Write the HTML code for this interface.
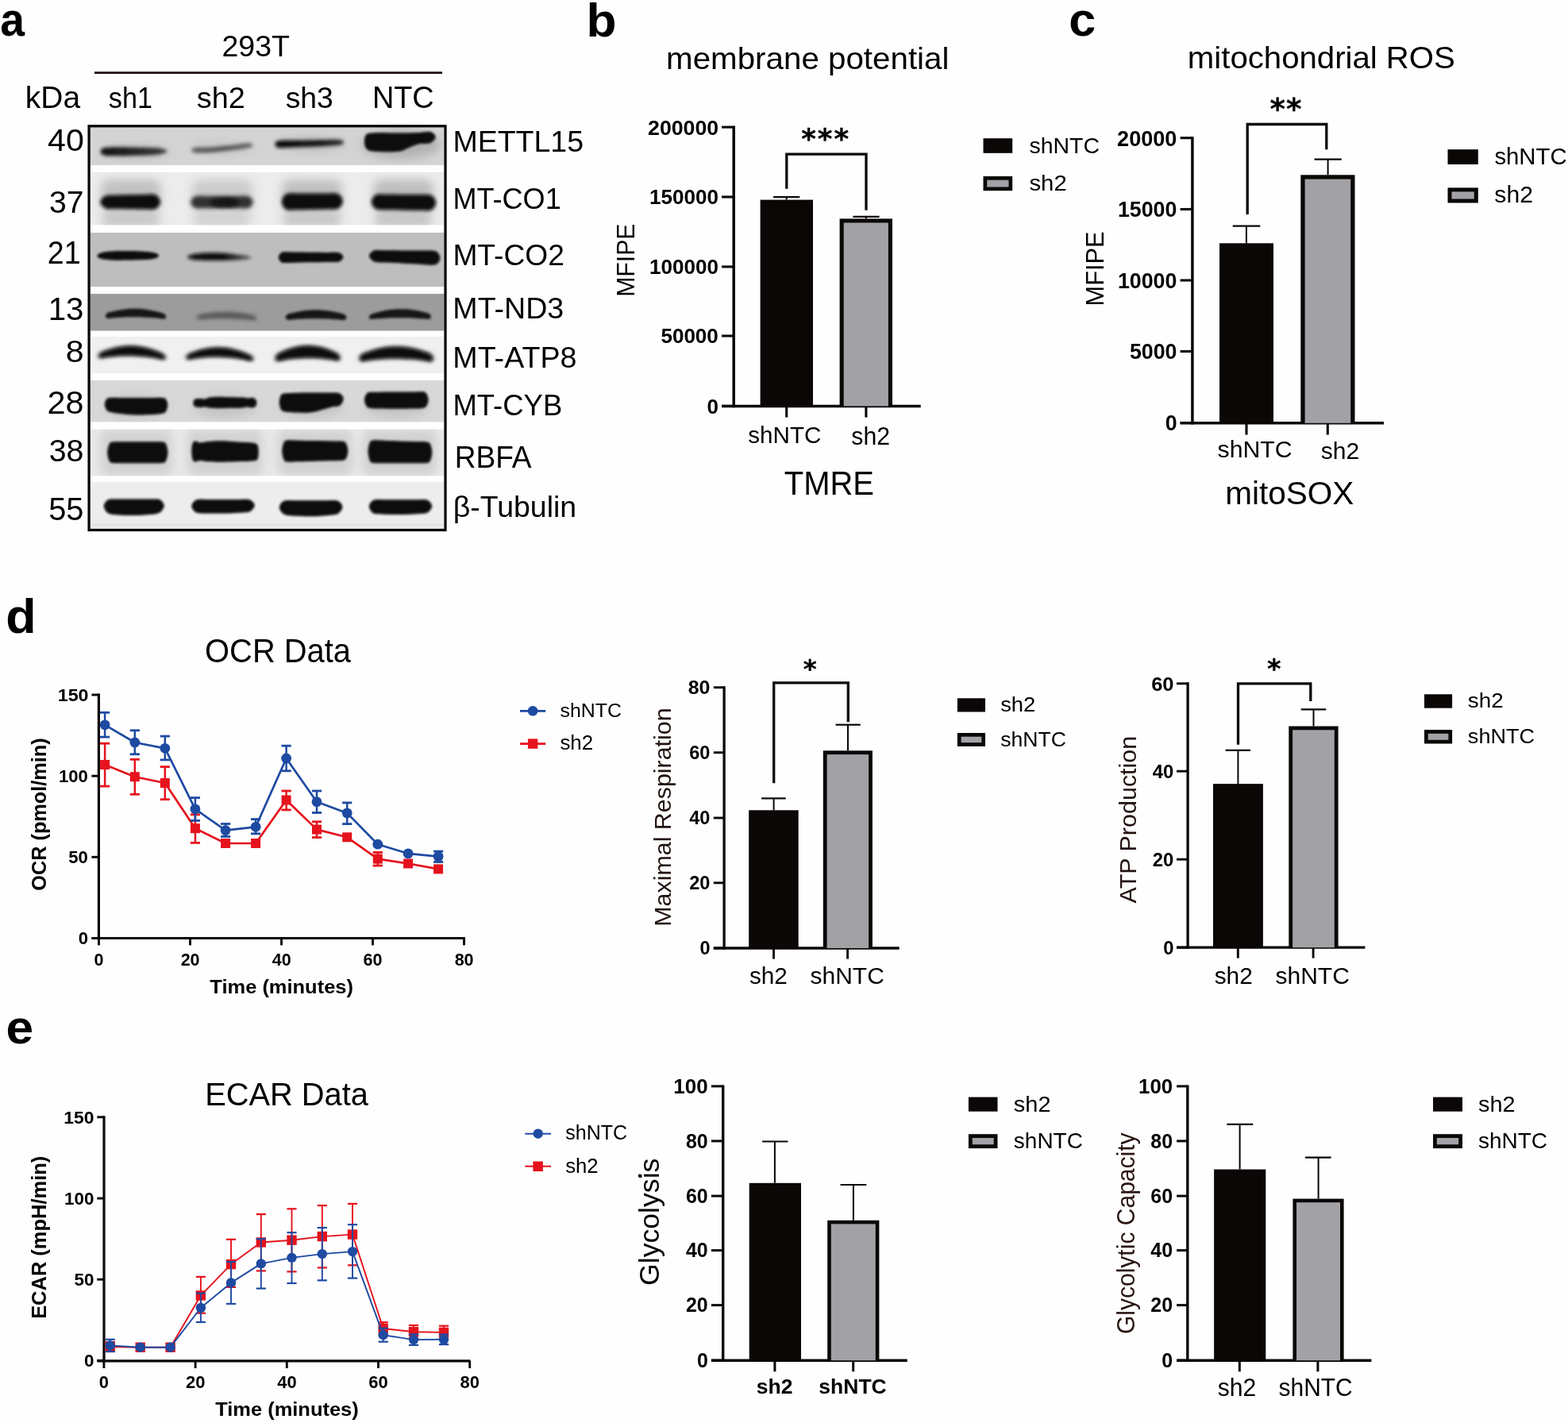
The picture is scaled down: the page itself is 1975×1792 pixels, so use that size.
<!DOCTYPE html>
<html><head><meta charset="utf-8"><title>Figure</title>
<style>html,body{margin:0;padding:0;background:#fefefe;} svg{display:block;}</style>
</head><body>
<svg width="1975" height="1792" viewBox="0 0 1975 1792">
<rect width="1975" height="1792" fill="#fefefe"/>
<defs><filter id="bl1" x="-20%" y="-60%" width="140%" height="220%"><feGaussianBlur stdDeviation="1.4"/></filter>
<filter id="bl2" x="-20%" y="-60%" width="140%" height="220%"><feGaussianBlur stdDeviation="2.0"/></filter>
<filter id="bl3" x="-30%" y="-80%" width="160%" height="260%"><feGaussianBlur stdDeviation="2.8"/></filter>
<filter id="bl6" x="-40%" y="-80%" width="180%" height="260%"><feGaussianBlur stdDeviation="6"/></filter>
<linearGradient id="g1" x1="0" x2="1" y1="0" y2="0"><stop offset="0" stop-color="#121212"/><stop offset="0.4" stop-color="#202020"/><stop offset="1" stop-color="#3e3e3e"/></linearGradient>
<linearGradient id="g2" x1="0" x2="1" y1="0" y2="0"><stop offset="0" stop-color="#606060"/><stop offset="0.5" stop-color="#585858"/><stop offset="1" stop-color="#6a6a6a"/></linearGradient>
<linearGradient id="g3" x1="0" x2="1" y1="0" y2="0"><stop offset="0" stop-color="#151515"/><stop offset="0.3" stop-color="#0a0a0a"/><stop offset="0.6" stop-color="#121212"/><stop offset="1" stop-color="#606060"/></linearGradient>
<linearGradient id="g4" x1="0" x2="1" y1="0" y2="0"><stop offset="0" stop-color="#0a0a0a"/><stop offset="0.7" stop-color="#181818"/><stop offset="1" stop-color="#353535"/></linearGradient>
<clipPath id="sc0"><rect x="113.5" y="160.3" width="446.1" height="47.7"/></clipPath>
<clipPath id="sc1"><rect x="113.5" y="216.7" width="446.1" height="66.9"/></clipPath>
<clipPath id="sc2"><rect x="113.5" y="292.9" width="446.1" height="68.1"/></clipPath>
<clipPath id="sc3"><rect x="113.5" y="370.0" width="446.1" height="46.7"/></clipPath>
<clipPath id="sc4"><rect x="113.5" y="424.0" width="446.1" height="46.6"/></clipPath>
<clipPath id="sc5"><rect x="113.5" y="478.8" width="446.1" height="52.7"/></clipPath>
<clipPath id="sc6"><rect x="113.5" y="540.6" width="446.1" height="58.8"/></clipPath>
<clipPath id="sc7"><rect x="113.5" y="607.0" width="446.1" height="59.5"/></clipPath></defs>
<g clip-path="url(#sc0)"><rect x="113.5" y="160.3" width="446.1" height="47.7" fill="#d4d4d4"/>
<ellipse cx="170" cy="191" rx="44" ry="9" fill="#bfbfbf" filter="url(#bl6)"/>
<ellipse cx="280" cy="186" rx="40" ry="8" fill="#c6c6c6" filter="url(#bl6)"/>
<ellipse cx="392" cy="181" rx="44" ry="9" fill="#bdbdbd" filter="url(#bl6)"/>
<ellipse cx="505" cy="182" rx="50" ry="18" fill="#b2b2b2" filter="url(#bl6)"/>
<path d="M126.80,190.60 C126.80,189.07 127.13,187.10 131.00,186.20 C134.87,185.30 142.67,185.28 150.00,185.20 C157.33,185.12 166.67,185.48 175.00,185.70 C183.33,185.92 194.10,185.73 200.00,186.50 C205.90,187.27 210.40,188.98 210.40,190.30 C210.40,191.62 205.90,193.48 200.00,194.40 C194.10,195.32 183.33,195.50 175.00,195.80 C166.67,196.10 157.33,196.27 150.00,196.20 C142.67,196.13 134.87,196.33 131.00,195.40 C127.13,194.47 126.80,192.13 126.80,190.60 Z" fill="url(#g1)" filter="url(#bl2)"/>
<path d="M241.30,189.00 C241.30,187.97 242.05,186.63 246.00,186.00 C249.95,185.37 257.67,185.70 265.00,185.20 C272.33,184.70 282.17,183.82 290.00,183.00 C297.83,182.18 307.22,180.30 312.00,180.30 C316.78,180.30 318.70,181.97 318.70,183.00 C318.70,184.03 316.78,185.42 312.00,186.50 C307.22,187.58 297.83,188.55 290.00,189.50 C282.17,190.45 272.33,191.75 265.00,192.20 C257.67,192.65 249.95,192.73 246.00,192.20 C242.05,191.67 241.30,190.03 241.30,189.00 Z" fill="url(#g2)" filter="url(#bl2)"/>
<path d="M346.80,181.50 C346.80,180.05 346.30,178.08 351.00,177.30 C355.70,176.52 366.00,176.98 375.00,176.80 C384.00,176.62 396.33,176.35 405.00,176.20 C413.67,176.05 422.33,175.37 427.00,175.90 C431.67,176.43 433.00,178.25 433.00,179.40 C433.00,180.55 431.67,182.00 427.00,182.80 C422.33,183.60 413.67,183.78 405.00,184.20 C396.33,184.62 384.00,185.00 375.00,185.30 C366.00,185.60 355.70,186.63 351.00,186.00 C346.30,185.37 346.80,182.95 346.80,181.50 Z" fill="url(#g4)" filter="url(#bl2)"/>
<path d="M459.00,178.00 C459.00,175.25 459.50,171.73 461.00,170.00 C462.50,168.27 463.17,168.03 468.00,167.60 C472.83,167.17 483.83,167.40 490.00,167.40 C496.17,167.40 500.67,167.60 505.00,167.60 C509.33,167.60 512.17,167.50 516.00,167.40 C519.83,167.30 523.67,167.23 528.00,167.00 C532.33,166.77 538.57,165.08 542.00,166.00 C545.43,166.92 548.60,170.17 548.60,172.50 C548.60,174.83 545.43,178.53 542.00,180.00 C538.57,181.47 532.33,180.38 528.00,181.30 C523.67,182.22 519.83,184.02 516.00,185.50 C512.17,186.98 509.33,189.25 505.00,190.20 C500.67,191.15 496.17,191.20 490.00,191.20 C483.83,191.20 472.83,190.98 468.00,190.20 C463.17,189.42 462.50,188.53 461.00,186.50 C459.50,184.47 459.00,180.75 459.00,178.00 Z" fill="#090707" filter="url(#bl1)"/>
</g>
<g clip-path="url(#sc1)"><rect x="113.5" y="216.7" width="446.1" height="66.9" fill="#ececec"/>
<rect x="127" y="226" width="76" height="38" rx="10" fill="#bababa" filter="url(#bl6)" opacity="0.85"/>
<rect x="129" y="264" width="72" height="22" rx="8" fill="#bababa" filter="url(#bl6)" opacity="0.7"/>
<rect x="242" y="226" width="76" height="38" rx="10" fill="#c6c6c6" filter="url(#bl6)" opacity="0.85"/>
<rect x="244" y="264" width="72" height="22" rx="8" fill="#c6c6c6" filter="url(#bl6)" opacity="0.7"/>
<rect x="355" y="226" width="76" height="38" rx="10" fill="#b8b8b8" filter="url(#bl6)" opacity="0.85"/>
<rect x="357" y="264" width="72" height="22" rx="8" fill="#b8b8b8" filter="url(#bl6)" opacity="0.7"/>
<rect x="470" y="226" width="76" height="38" rx="10" fill="#b6b6b6" filter="url(#bl6)" opacity="0.85"/>
<rect x="472" y="264" width="72" height="22" rx="8" fill="#b6b6b6" filter="url(#bl6)" opacity="0.7"/>
<path d="M126.30,254.45 C126.30,252.64 127.86,250.44 129.28,249.02 C130.69,247.60 132.14,246.48 134.80,245.93 C137.46,245.38 140.33,245.82 145.22,245.72 C150.12,245.63 157.84,245.47 164.15,245.35 C170.46,245.22 178.18,245.07 183.07,244.97 C187.97,244.88 190.84,244.33 193.50,244.77 C196.16,245.21 197.61,246.06 199.03,247.63 C200.44,249.21 202.00,252.01 202.00,254.20 C202.00,256.39 200.44,259.20 199.03,260.79 C197.61,262.37 196.16,263.23 193.50,263.69 C190.84,264.15 187.97,263.61 183.07,263.55 C178.18,263.49 170.46,263.38 164.15,263.30 C157.84,263.22 150.12,263.11 145.22,263.05 C140.33,262.99 137.46,263.44 134.80,262.91 C132.14,262.38 130.69,261.27 129.28,259.86 C127.86,258.45 126.30,256.26 126.30,254.45 Z" fill="#090707" filter="url(#bl2)"/>
<path d="M240.00,254.55 C240.00,252.84 241.38,250.72 242.62,249.43 C243.88,248.13 244.65,247.24 247.50,246.80 C250.35,246.36 254.38,246.80 259.70,246.80 C265.02,246.80 272.83,246.80 279.40,246.80 C285.97,246.80 293.78,246.80 299.10,246.80 C304.42,246.80 308.45,246.36 311.30,246.80 C314.15,247.24 314.93,248.13 316.18,249.43 C317.43,250.72 318.80,252.84 318.80,254.55 C318.80,256.26 317.43,258.38 316.18,259.68 C314.93,260.97 314.15,261.86 311.30,262.30 C308.45,262.74 304.42,262.30 299.10,262.30 C293.78,262.30 285.97,262.30 279.40,262.30 C272.83,262.30 265.02,262.30 259.70,262.30 C254.38,262.30 250.35,262.74 247.50,262.30 C244.65,261.86 243.88,260.97 242.62,259.68 C241.38,258.38 240.00,256.26 240.00,254.55 Z" fill="#303030" filter="url(#bl3)"/>
<ellipse cx="283" cy="255" rx="18" ry="5.5" fill="#121212" filter="url(#bl2)"/>
<path d="M354.80,254.10 C354.80,251.57 356.36,248.24 357.78,246.47 C359.19,244.71 360.59,244.00 363.30,243.50 C366.01,243.00 369.05,243.50 374.05,243.50 C379.05,243.50 386.88,243.50 393.30,243.50 C399.72,243.50 407.55,243.50 412.55,243.50 C417.55,243.50 420.59,243.00 423.30,243.50 C426.01,244.00 427.41,244.83 428.82,246.47 C430.24,248.12 431.80,251.05 431.80,253.35 C431.80,255.65 430.24,258.61 428.82,260.28 C427.41,261.95 426.01,262.82 423.30,263.37 C420.59,263.91 417.55,263.48 412.55,263.57 C407.55,263.67 399.72,263.82 393.30,263.95 C386.88,264.07 379.05,264.23 374.05,264.32 C369.05,264.42 366.01,264.98 363.30,264.53 C360.59,264.09 359.19,263.41 357.78,261.67 C356.36,259.93 354.80,256.63 354.80,254.10 Z" fill="#090707" filter="url(#bl2)"/>
<path d="M467.80,254.20 C467.80,251.95 469.36,249.11 470.78,247.50 C472.19,245.90 473.40,245.05 476.30,244.58 C479.20,244.12 482.78,244.65 488.15,244.70 C493.52,244.75 501.72,244.83 508.50,244.90 C515.28,244.97 523.48,245.05 528.85,245.10 C534.22,245.15 537.80,244.69 540.70,245.22 C543.60,245.74 544.81,246.56 546.23,248.25 C547.64,249.93 549.20,253.00 549.20,255.35 C549.20,257.70 547.64,260.72 546.23,262.37 C544.81,264.02 543.60,264.80 540.70,265.24 C537.80,265.69 534.22,265.12 528.85,265.02 C523.48,264.93 515.28,264.77 508.50,264.65 C501.72,264.52 493.52,264.37 488.15,264.27 C482.78,264.18 479.20,264.61 476.30,264.06 C473.40,263.51 472.19,262.62 470.78,260.98 C469.36,259.34 467.80,256.45 467.80,254.20 Z" fill="#090707" filter="url(#bl2)"/>
</g>
<g clip-path="url(#sc2)"><rect x="113.5" y="292.9" width="446.1" height="68.1" fill="#bebebe"/>
<path d="M122.50,322.20 C122.50,321.00 124.08,319.53 127.00,318.60 C129.92,317.67 134.50,317.02 140.00,316.60 C145.50,316.18 153.00,316.07 160.00,316.10 C167.00,316.13 176.17,316.38 182.00,316.80 C187.83,317.22 192.00,317.77 195.00,318.60 C198.00,319.43 200.00,320.63 200.00,321.80 C200.00,322.97 198.00,324.72 195.00,325.60 C192.00,326.48 187.83,326.77 182.00,327.10 C176.17,327.43 167.00,327.55 160.00,327.60 C153.00,327.65 145.50,327.70 140.00,327.40 C134.50,327.10 129.92,326.67 127.00,325.80 C124.08,324.93 122.50,323.40 122.50,322.20 Z" fill="#090707" filter="url(#bl1)"/>
<path d="M236.20,323.40 C236.20,322.30 238.37,321.03 242.00,320.20 C245.63,319.37 252.00,318.67 258.00,318.40 C264.00,318.13 271.33,318.27 278.00,318.60 C284.67,318.93 292.67,319.87 298.00,320.40 C303.33,320.93 306.87,321.13 310.00,321.80 C313.13,322.47 316.80,323.60 316.80,324.40 C316.80,325.20 313.13,326.10 310.00,326.60 C306.87,327.10 303.33,327.18 298.00,327.40 C292.67,327.62 284.67,327.82 278.00,327.90 C271.33,327.98 264.00,328.08 258.00,327.90 C252.00,327.72 245.63,327.55 242.00,326.80 C238.37,326.05 236.20,324.50 236.20,323.40 Z" fill="url(#g3)" filter="url(#bl2)"/>
<path d="M350.70,324.20 C350.70,322.67 351.89,320.74 352.97,319.60 C354.06,318.46 354.17,317.71 357.20,317.36 C360.23,317.01 365.42,317.44 371.15,317.50 C376.88,317.56 384.78,317.63 391.60,317.70 C398.42,317.77 406.32,317.84 412.05,317.90 C417.78,317.96 422.97,317.63 426.00,318.04 C429.03,318.45 429.14,319.38 430.23,320.35 C431.31,321.32 432.50,322.68 432.50,323.85 C432.50,325.02 431.31,326.39 430.23,327.37 C429.14,328.34 429.03,329.28 426.00,329.72 C422.97,330.15 417.78,329.87 412.05,329.98 C406.32,330.08 398.42,330.23 391.60,330.35 C384.78,330.48 376.88,330.62 371.15,330.73 C365.42,330.83 360.23,331.30 357.20,330.98 C354.17,330.66 354.06,329.91 352.97,328.78 C351.89,327.65 350.70,325.73 350.70,324.20 Z" fill="#090707" filter="url(#bl1)"/>
<path d="M464.90,322.25 C464.90,320.75 466.37,319.02 467.70,317.83 C469.03,316.63 469.64,315.51 472.90,315.07 C476.16,314.63 481.15,315.15 487.27,315.20 C493.40,315.25 502.19,315.33 509.65,315.40 C517.11,315.47 525.90,315.55 532.02,315.60 C538.15,315.65 543.14,315.23 546.40,315.73 C549.66,316.22 550.27,317.05 551.60,318.57 C552.93,320.10 554.40,322.82 554.40,324.90 C554.40,326.98 552.93,329.61 551.60,331.06 C550.27,332.51 549.66,333.30 546.40,333.60 C543.14,333.90 538.15,333.18 532.02,332.88 C525.90,332.57 517.11,332.12 509.65,331.75 C502.19,331.38 493.40,330.93 487.27,330.62 C481.15,330.32 476.16,330.53 472.90,329.90 C469.64,329.27 469.03,328.12 467.70,326.84 C466.37,325.57 464.90,323.75 464.90,322.25 Z" fill="#090707" filter="url(#bl1)"/>
</g>
<g clip-path="url(#sc3)"><rect x="113.5" y="370.0" width="446.1" height="46.7" fill="#9c9c9c"/>
<path d="M132.70,398.00 C132.70,396.81 134.02,394.82 135.70,393.80 C137.38,392.79 140.41,392.46 142.77,391.90 C145.13,391.33 147.48,390.85 149.84,390.44 C152.20,390.02 154.55,389.69 156.91,389.43 C159.27,389.17 161.62,388.98 163.98,388.87 C166.34,388.76 168.69,388.72 171.05,388.76 C173.41,388.80 175.76,388.91 178.12,389.10 C180.48,389.29 182.83,389.55 185.19,389.89 C187.55,390.23 189.90,390.64 192.26,391.13 C194.62,391.62 196.97,392.18 199.33,392.82 C201.69,393.46 204.72,393.93 206.40,394.96 C208.08,395.99 209.40,397.89 209.40,399.00 C209.40,400.11 208.08,401.31 206.40,401.62 C204.72,401.92 201.69,401.06 199.33,400.82 C196.97,400.59 194.62,400.38 192.26,400.19 C189.90,400.01 187.55,399.85 185.19,399.72 C182.83,399.59 180.48,399.49 178.12,399.41 C175.76,399.34 173.41,399.29 171.05,399.26 C168.69,399.24 166.34,399.25 163.98,399.28 C161.62,399.31 159.27,399.36 156.91,399.45 C154.55,399.53 152.20,399.64 149.84,399.78 C147.48,399.92 145.13,400.08 142.77,400.27 C140.41,400.46 137.38,401.30 135.70,400.92 C134.02,400.55 132.70,399.19 132.70,398.00 Z" fill="#141414" filter="url(#bl1)"/>
<path d="M247.50,400.00 C247.50,399.09 248.83,397.56 250.50,396.78 C252.17,396.01 255.17,395.77 257.50,395.35 C259.83,394.93 262.17,394.57 264.50,394.26 C266.83,393.95 269.17,393.70 271.50,393.50 C273.83,393.31 276.17,393.17 278.50,393.09 C280.83,393.01 283.17,392.98 285.50,393.01 C287.83,393.04 290.17,393.13 292.50,393.27 C294.83,393.42 297.17,393.62 299.50,393.87 C301.83,394.13 304.17,394.44 306.50,394.81 C308.83,395.18 311.17,395.61 313.50,396.09 C315.83,396.57 318.83,396.89 320.50,397.70 C322.17,398.52 323.50,400.09 323.50,401.00 C323.50,401.91 322.17,402.92 320.50,403.16 C318.83,403.41 315.83,402.67 313.50,402.47 C311.17,402.26 308.83,402.07 306.50,401.90 C304.17,401.74 301.83,401.60 299.50,401.48 C297.17,401.36 294.83,401.26 292.50,401.18 C290.17,401.11 287.83,401.06 285.50,401.02 C283.17,400.99 280.83,400.99 278.50,401.00 C276.17,401.01 273.83,401.05 271.50,401.11 C269.17,401.17 266.83,401.25 264.50,401.35 C262.17,401.45 259.83,401.58 257.50,401.73 C255.17,401.88 252.17,402.53 250.50,402.24 C248.83,401.95 247.50,400.91 247.50,400.00 Z" fill="#545454" filter="url(#bl3)"/>
<path d="M359.50,399.80 C359.50,398.60 360.82,396.62 362.50,395.60 C364.18,394.58 367.23,394.24 369.60,393.67 C371.97,393.09 374.33,392.59 376.70,392.17 C379.07,391.74 381.43,391.38 383.80,391.10 C386.17,390.82 388.53,390.61 390.90,390.47 C393.27,390.33 395.63,390.26 398.00,390.27 C400.37,390.28 402.73,390.35 405.10,390.50 C407.47,390.66 409.83,390.88 412.20,391.17 C414.57,391.47 416.93,391.84 419.30,392.28 C421.67,392.72 424.03,393.23 426.40,393.81 C428.77,394.40 431.82,394.76 433.50,395.79 C435.18,396.82 436.50,398.80 436.50,400.00 C436.50,401.20 435.18,402.57 433.50,402.96 C431.82,403.36 428.77,402.55 426.40,402.38 C424.03,402.20 421.67,402.05 419.30,401.92 C416.93,401.79 414.57,401.68 412.20,401.59 C409.83,401.50 407.47,401.43 405.10,401.38 C402.73,401.33 400.37,401.30 398.00,401.30 C395.63,401.29 393.27,401.31 390.90,401.34 C388.53,401.38 386.17,401.43 383.80,401.51 C381.43,401.59 379.07,401.69 376.70,401.81 C374.33,401.93 371.97,402.07 369.60,402.23 C367.23,402.39 364.18,403.19 362.50,402.78 C360.82,402.37 359.50,401.00 359.50,399.80 Z" fill="#151515" filter="url(#bl1)"/>
<path d="M464.50,399.50 C464.50,398.45 465.79,396.69 467.50,395.67 C469.21,394.66 472.33,394.09 474.75,393.41 C477.17,392.74 479.58,392.15 482.00,391.63 C484.42,391.12 486.83,390.69 489.25,390.34 C491.67,389.98 494.08,389.71 496.50,389.52 C498.92,389.33 501.33,389.22 503.75,389.19 C506.17,389.16 508.58,389.21 511.00,389.34 C513.42,389.47 515.83,389.68 518.25,389.97 C520.67,390.26 523.08,390.63 525.50,391.08 C527.92,391.53 530.33,392.06 532.75,392.67 C535.17,393.29 538.29,393.70 540.00,394.75 C541.71,395.80 543.00,397.80 543.00,399.00 C543.00,400.20 541.71,401.57 540.00,401.96 C538.29,402.35 535.17,401.54 532.75,401.36 C530.33,401.18 527.92,401.02 525.50,400.89 C523.08,400.75 520.67,400.64 518.25,400.55 C515.83,400.46 513.42,400.39 511.00,400.35 C508.58,400.30 506.17,400.28 503.75,400.28 C501.33,400.28 498.92,400.30 496.50,400.35 C494.08,400.39 491.67,400.46 489.25,400.55 C486.83,400.64 484.42,400.75 482.00,400.89 C479.58,401.02 477.17,401.18 474.75,401.36 C472.33,401.54 469.21,402.27 467.50,401.96 C465.79,401.65 464.50,400.55 464.50,399.50 Z" fill="#151515" filter="url(#bl1)"/>
</g>
<g clip-path="url(#sc4)"><rect x="113.5" y="424.0" width="446.1" height="46.6" fill="#f0f0f0"/>
<path d="M121.80,448.50 C121.80,447.18 122.92,444.98 124.80,443.61 C126.68,442.24 130.32,441.27 133.08,440.29 C135.84,439.32 138.60,438.47 141.36,437.76 C144.12,437.04 146.88,436.46 149.64,436.00 C152.40,435.54 155.16,435.22 157.92,435.02 C160.68,434.82 163.44,434.76 166.20,434.82 C168.96,434.88 171.72,435.07 174.48,435.39 C177.24,435.72 180.00,436.17 182.76,436.75 C185.52,437.33 188.28,438.04 191.04,438.88 C193.80,439.72 196.56,440.69 199.32,441.79 C202.08,442.89 205.72,444.02 207.60,445.47 C209.48,446.92 210.60,449.18 210.60,450.50 C210.60,451.82 209.48,453.15 207.60,453.39 C205.72,453.62 202.08,452.34 199.32,451.89 C196.56,451.44 193.80,451.04 191.04,450.69 C188.28,450.34 185.52,450.03 182.76,449.78 C180.00,449.52 177.24,449.31 174.48,449.16 C171.72,449.00 168.96,448.89 166.20,448.82 C163.44,448.76 160.68,448.75 157.92,448.78 C155.16,448.82 152.40,448.90 149.64,449.03 C146.88,449.16 144.12,449.34 141.36,449.57 C138.60,449.80 135.84,450.08 133.08,450.40 C130.32,450.73 126.68,451.84 124.80,451.52 C122.92,451.21 121.80,449.82 121.80,448.50 Z" fill="#555" filter="url(#bl3)" opacity="0.5"/>
<path d="M232.40,450.30 C232.40,448.99 233.53,446.78 235.40,445.42 C237.28,444.07 240.90,443.12 243.65,442.16 C246.40,441.20 249.15,440.37 251.90,439.66 C254.65,438.96 257.40,438.38 260.15,437.93 C262.90,437.48 265.65,437.16 268.40,436.97 C271.15,436.78 273.90,436.71 276.65,436.77 C279.40,436.83 282.15,437.02 284.90,437.34 C287.65,437.66 290.40,438.10 293.15,438.68 C295.90,439.25 298.65,439.95 301.40,440.78 C304.15,441.61 306.90,442.57 309.65,443.65 C312.40,444.74 316.02,445.85 317.90,447.29 C319.77,448.73 320.90,450.99 320.90,452.30 C320.90,453.61 319.77,454.93 317.90,455.14 C316.02,455.35 312.40,454.02 309.65,453.54 C306.90,453.06 304.15,452.63 301.40,452.25 C298.65,451.88 295.90,451.55 293.15,451.28 C290.40,451.01 287.65,450.79 284.90,450.62 C282.15,450.46 279.40,450.34 276.65,450.28 C273.90,450.22 271.15,450.21 268.40,450.25 C265.65,450.29 262.90,450.39 260.15,450.54 C257.40,450.68 254.65,450.88 251.90,451.14 C249.15,451.39 246.40,451.69 243.65,452.05 C240.90,452.41 237.28,453.57 235.40,453.28 C233.53,452.98 232.40,451.61 232.40,450.30 Z" fill="#555" filter="url(#bl3)" opacity="0.5"/>
<path d="M344.80,451.50 C344.80,449.82 345.98,447.00 347.80,445.32 C349.62,443.65 353.10,442.61 355.75,441.46 C358.40,440.32 361.05,439.32 363.70,438.45 C366.35,437.59 369.00,436.87 371.65,436.29 C374.30,435.71 376.95,435.27 379.60,434.97 C382.25,434.67 384.90,434.52 387.55,434.50 C390.20,434.49 392.85,434.61 395.50,434.88 C398.15,435.15 400.80,435.55 403.45,436.10 C406.10,436.65 408.75,437.34 411.40,438.17 C414.05,439.01 416.70,439.98 419.35,441.09 C422.00,442.21 425.48,443.21 427.30,444.86 C429.12,446.51 430.30,449.32 430.30,451.00 C430.30,452.68 429.12,454.50 427.30,454.94 C425.48,455.39 422.00,454.04 419.35,453.67 C416.70,453.29 414.05,452.96 411.40,452.68 C408.75,452.41 406.10,452.18 403.45,452.00 C400.80,451.82 398.15,451.69 395.50,451.60 C392.85,451.52 390.20,451.49 387.55,451.50 C384.90,451.52 382.25,451.58 379.60,451.70 C376.95,451.81 374.30,451.97 371.65,452.18 C369.00,452.39 366.35,452.65 363.70,452.96 C361.05,453.27 358.40,453.63 355.75,454.04 C353.10,454.45 349.62,455.83 347.80,455.41 C345.98,454.98 344.80,453.18 344.80,451.50 Z" fill="#555" filter="url(#bl3)" opacity="0.5"/>
<path d="M450.80,451.50 C450.80,449.84 451.79,447.21 453.80,445.63 C455.81,444.05 459.85,443.08 462.88,442.01 C465.91,440.93 468.93,439.99 471.96,439.18 C474.99,438.37 478.01,437.69 481.04,437.15 C484.07,436.60 487.09,436.19 490.12,435.91 C493.15,435.63 496.17,435.48 499.20,435.47 C502.23,435.45 505.25,435.57 508.28,435.82 C511.31,436.06 514.33,436.45 517.36,436.96 C520.39,437.47 523.41,438.12 526.44,438.90 C529.47,439.68 532.49,440.59 535.52,441.63 C538.55,442.68 542.59,443.52 544.60,445.16 C546.61,446.80 547.60,449.69 547.60,451.50 C547.60,453.31 546.61,455.48 544.60,456.03 C542.59,456.58 538.55,455.17 535.52,454.80 C532.49,454.43 529.47,454.11 526.44,453.83 C523.41,453.55 520.39,453.32 517.36,453.12 C514.33,452.93 511.31,452.79 508.28,452.68 C505.25,452.58 502.23,452.52 499.20,452.50 C496.17,452.49 493.15,452.52 490.12,452.59 C487.09,452.66 484.07,452.78 481.04,452.94 C478.01,453.10 474.99,453.30 471.96,453.55 C468.93,453.80 465.91,454.09 462.88,454.43 C459.85,454.76 455.81,456.05 453.80,455.57 C451.79,455.08 450.80,453.16 450.80,451.50 Z" fill="#555" filter="url(#bl3)" opacity="0.5"/>
<path d="M124.50,448.50 C124.50,447.43 125.71,445.54 127.50,444.31 C129.29,443.07 132.67,442.05 135.25,441.10 C137.83,440.16 140.42,439.34 143.00,438.65 C145.58,437.96 148.17,437.40 150.75,436.96 C153.33,436.52 155.92,436.20 158.50,436.01 C161.08,435.82 163.67,435.76 166.25,435.82 C168.83,435.88 171.42,436.07 174.00,436.38 C176.58,436.70 179.17,437.13 181.75,437.70 C184.33,438.26 186.92,438.95 189.50,439.77 C192.08,440.58 194.67,441.52 197.25,442.59 C199.83,443.65 203.21,444.85 205.00,446.16 C206.79,447.48 208.00,449.43 208.00,450.50 C208.00,451.57 206.79,452.48 205.00,452.57 C203.21,452.65 199.83,451.48 197.25,451.01 C194.67,450.54 192.08,450.12 189.50,449.75 C186.92,449.39 184.33,449.07 181.75,448.81 C179.17,448.54 176.58,448.33 174.00,448.16 C171.42,448.00 168.83,447.89 166.25,447.83 C163.67,447.76 161.08,447.75 158.50,447.79 C155.92,447.83 153.33,447.92 150.75,448.06 C148.17,448.21 145.58,448.40 143.00,448.64 C140.42,448.88 137.83,449.18 135.25,449.52 C132.67,449.87 129.29,450.88 127.50,450.71 C125.71,450.54 124.50,449.57 124.50,448.50 Z" fill="#090707" filter="url(#bl2)"/>
<path d="M235.00,450.30 C235.00,449.24 236.21,447.35 238.00,446.13 C239.79,444.91 243.16,443.90 245.74,442.97 C248.32,442.04 250.90,441.24 253.48,440.56 C256.06,439.88 258.64,439.32 261.22,438.89 C263.80,438.45 266.38,438.14 268.96,437.96 C271.54,437.77 274.12,437.71 276.70,437.77 C279.28,437.83 281.86,438.02 284.44,438.33 C287.02,438.64 289.60,439.07 292.18,439.63 C294.76,440.19 297.34,440.87 299.92,441.67 C302.50,442.48 305.08,443.40 307.66,444.46 C310.24,445.51 313.61,446.68 315.40,447.98 C317.19,449.29 318.40,451.24 318.40,452.30 C318.40,453.36 317.19,454.26 315.40,454.32 C313.61,454.38 310.24,453.15 307.66,452.65 C305.08,452.15 302.50,451.71 299.92,451.32 C297.34,450.93 294.76,450.59 292.18,450.31 C289.60,450.03 287.02,449.80 284.44,449.63 C281.86,449.46 279.28,449.34 276.70,449.28 C274.12,449.22 271.54,449.21 268.96,449.26 C266.38,449.31 263.80,449.41 261.22,449.57 C258.64,449.73 256.06,449.94 253.48,450.20 C250.90,450.47 248.32,450.79 245.74,451.17 C243.16,451.54 239.79,452.61 238.00,452.46 C236.21,452.32 235.00,451.36 235.00,450.30 Z" fill="#090707" filter="url(#bl2)"/>
<path d="M347.30,451.50 C347.30,450.07 348.56,447.54 350.30,446.00 C352.04,444.46 355.27,443.35 357.75,442.24 C360.23,441.12 362.72,440.15 365.20,439.31 C367.68,438.47 370.17,437.77 372.65,437.21 C375.13,436.65 377.62,436.22 380.10,435.94 C382.58,435.65 385.07,435.51 387.55,435.50 C390.03,435.49 392.52,435.62 395.00,435.89 C397.48,436.16 399.97,436.57 402.45,437.12 C404.93,437.66 407.42,438.35 409.90,439.17 C412.38,439.99 414.87,440.95 417.35,442.05 C419.83,443.15 423.06,444.28 424.80,445.77 C426.54,447.26 427.80,449.64 427.80,451.00 C427.80,452.36 426.54,453.63 424.80,453.90 C423.06,454.17 419.83,453.00 417.35,452.62 C414.87,452.25 412.38,451.92 409.90,451.64 C407.42,451.37 404.93,451.14 402.45,450.96 C399.97,450.79 397.48,450.66 395.00,450.58 C392.52,450.51 390.03,450.48 387.55,450.50 C385.07,450.53 382.58,450.60 380.10,450.72 C377.62,450.85 375.13,451.02 372.65,451.24 C370.17,451.46 367.68,451.74 365.20,452.06 C362.72,452.38 360.23,452.75 357.75,453.18 C355.27,453.60 352.04,454.87 350.30,454.59 C348.56,454.32 347.30,452.93 347.30,451.50 Z" fill="#090707" filter="url(#bl2)"/>
<path d="M453.30,451.50 C453.30,450.10 454.37,447.79 456.30,446.36 C458.23,444.93 462.02,443.93 464.88,442.91 C467.74,441.89 470.60,440.99 473.46,440.22 C476.32,439.45 479.18,438.81 482.04,438.29 C484.90,437.77 487.76,437.39 490.62,437.12 C493.48,436.86 496.34,436.73 499.20,436.72 C502.06,436.71 504.92,436.83 507.78,437.08 C510.64,437.32 513.50,437.70 516.36,438.20 C519.22,438.70 522.08,439.32 524.94,440.08 C527.80,440.83 530.66,441.71 533.52,442.72 C536.38,443.73 540.17,444.67 542.10,446.13 C544.03,447.59 545.10,450.03 545.10,451.50 C545.10,452.97 544.03,454.61 542.10,454.97 C540.17,455.33 536.38,454.04 533.52,453.65 C530.66,453.26 527.80,452.91 524.94,452.61 C522.08,452.32 519.22,452.07 516.36,451.87 C513.50,451.67 510.64,451.52 507.78,451.41 C504.92,451.31 502.06,451.25 499.20,451.25 C496.34,451.24 493.48,451.28 490.62,451.37 C487.76,451.46 484.90,451.59 482.04,451.78 C479.18,451.96 476.32,452.19 473.46,452.47 C470.60,452.76 467.74,453.08 464.88,453.46 C462.02,453.84 458.23,455.06 456.30,454.74 C454.37,454.41 453.30,452.90 453.30,451.50 Z" fill="#090707" filter="url(#bl2)"/>
</g>
<g clip-path="url(#sc5)"><rect x="113.5" y="478.8" width="446.1" height="52.7" fill="#d8d8d8"/>
<ellipse cx="171" cy="512" rx="40.0" ry="15" fill="#c6c6c6" filter="url(#bl6)"/>
<ellipse cx="283" cy="512" rx="40.0" ry="15" fill="#c6c6c6" filter="url(#bl6)"/>
<ellipse cx="392" cy="512" rx="40.5" ry="15" fill="#c6c6c6" filter="url(#bl6)"/>
<ellipse cx="499" cy="512" rx="40.5" ry="15" fill="#c6c6c6" filter="url(#bl6)"/>
<path d="M131.90,509.25 C131.90,507.12 133.00,504.48 134.00,503.10 C135.00,501.73 134.95,501.35 137.90,501.00 C140.85,500.65 146.12,501.00 151.73,501.00 C157.33,501.00 164.94,501.00 171.55,501.00 C178.16,501.00 185.77,501.00 191.38,501.00 C196.98,501.00 202.25,500.65 205.20,501.00 C208.15,501.35 208.10,501.56 209.10,503.10 C210.10,504.64 211.20,507.81 211.20,510.25 C211.20,512.69 210.10,516.06 209.10,517.76 C208.10,519.46 208.15,519.76 205.20,520.47 C202.25,521.17 196.98,521.66 191.38,522.00 C185.77,522.34 178.16,522.67 171.55,522.50 C164.94,522.33 157.33,521.62 151.73,521.00 C146.12,520.38 140.85,519.63 137.90,518.77 C134.95,517.91 135.00,517.45 134.00,515.87 C133.00,514.28 131.90,511.38 131.90,509.25 Z" fill="#090707" filter="url(#bl1)"/>
<path d="M243.40,507.40 C243.40,505.93 243.93,503.92 245.20,503.00 C246.47,502.08 248.87,501.97 251.00,501.90 C253.13,501.83 255.83,502.82 258.00,502.60 C260.17,502.38 261.17,501.07 264.00,500.60 C266.83,500.13 270.67,499.87 275.00,499.80 C279.33,499.73 285.00,500.07 290.00,500.20 C295.00,500.33 301.33,500.37 305.00,500.60 C308.67,500.83 310.00,501.57 312.00,501.60 C314.00,501.63 315.42,500.65 317.00,500.80 C318.58,500.95 320.43,501.47 321.50,502.50 C322.57,503.53 323.40,505.42 323.40,507.00 C323.40,508.58 322.57,510.93 321.50,512.00 C320.43,513.07 318.58,513.30 317.00,513.40 C315.42,513.50 314.00,512.60 312.00,512.60 C310.00,512.60 308.67,513.20 305.00,513.40 C301.33,513.60 295.00,513.67 290.00,513.80 C285.00,513.93 279.33,514.23 275.00,514.20 C270.67,514.17 266.83,513.93 264.00,513.60 C261.17,513.27 260.17,512.30 258.00,512.20 C255.83,512.10 253.13,513.07 251.00,513.00 C248.87,512.93 246.47,512.73 245.20,511.80 C243.93,510.87 243.40,508.87 243.40,507.40 Z" fill="#090707" filter="url(#bl1)"/>
<path d="M351.80,506.50 C351.80,503.83 352.47,500.32 353.50,498.50 C354.53,496.68 354.42,496.22 358.00,495.60 C361.58,494.98 369.33,494.97 375.00,494.80 C380.67,494.63 387.00,494.67 392.00,494.60 C397.00,494.53 400.67,494.40 405.00,494.40 C409.33,494.40 414.17,494.40 418.00,494.60 C421.83,494.80 425.57,494.37 428.00,495.60 C430.43,496.83 432.60,499.47 432.60,502.00 C432.60,504.53 430.43,509.07 428.00,510.80 C425.57,512.53 421.83,511.50 418.00,512.40 C414.17,513.30 409.33,515.07 405.00,516.20 C400.67,517.33 397.00,518.63 392.00,519.20 C387.00,519.77 380.67,519.77 375.00,519.60 C369.33,519.43 361.58,519.05 358.00,518.20 C354.42,517.35 354.53,516.45 353.50,514.50 C352.47,512.55 351.80,509.17 351.80,506.50 Z" fill="#090707" filter="url(#bl1)"/>
<path d="M459.00,503.70 C459.00,501.22 460.28,497.97 461.45,496.33 C462.62,494.69 463.05,494.28 466.00,493.85 C468.95,493.42 473.60,493.79 479.15,493.75 C484.70,493.71 492.58,493.65 499.30,493.60 C506.02,493.55 513.90,493.49 519.45,493.45 C525.00,493.41 529.65,492.97 532.60,493.35 C535.55,493.74 535.98,494.09 537.15,495.77 C538.32,497.44 539.60,500.83 539.60,503.40 C539.60,505.97 538.32,509.44 537.15,511.19 C535.98,512.94 535.55,513.35 532.60,513.88 C529.65,514.42 525.00,514.26 519.45,514.40 C513.90,514.54 506.02,514.70 499.30,514.70 C492.58,514.70 484.70,514.54 479.15,514.40 C473.60,514.26 468.95,514.42 466.00,513.88 C463.05,513.35 462.62,512.89 461.45,511.19 C460.28,509.49 459.00,506.18 459.00,503.70 Z" fill="#090707" filter="url(#bl1)"/>
</g>
<g clip-path="url(#sc6)"><rect x="113.5" y="540.6" width="446.1" height="58.8" fill="#e8e8e8"/>
<rect x="127" y="541" width="90" height="58" rx="10" fill="#d2d2d2" filter="url(#bl6)"/>
<rect x="236" y="541" width="95" height="58" rx="10" fill="#d2d2d2" filter="url(#bl6)"/>
<rect x="350" y="541" width="94" height="58" rx="10" fill="#d2d2d2" filter="url(#bl6)"/>
<rect x="457" y="541" width="93" height="58" rx="10" fill="#d2d2d2" filter="url(#bl6)"/>
<path d="M135.30,569.65 C135.30,566.07 136.58,561.12 137.75,558.91 C138.92,556.70 139.54,556.84 142.30,556.40 C145.06,555.96 149.15,556.31 154.33,556.27 C159.50,556.24 167.01,556.20 173.35,556.20 C179.69,556.20 187.20,556.24 192.38,556.27 C197.55,556.31 201.64,555.96 204.40,556.40 C207.16,556.84 207.78,556.70 208.95,558.91 C210.12,561.12 211.40,566.07 211.40,569.65 C211.40,573.23 210.12,578.19 208.95,580.41 C207.78,582.63 207.16,582.51 204.40,582.97 C201.64,583.43 197.55,583.12 192.38,583.17 C187.20,583.23 179.69,583.30 173.35,583.30 C167.01,583.30 159.50,583.23 154.33,583.17 C149.15,583.12 145.06,583.43 142.30,582.97 C139.54,582.51 138.92,582.63 137.75,580.41 C136.58,578.19 135.30,573.23 135.30,569.65 Z" fill="#090707" filter="url(#bl1)"/>
<path d="M241.30,568.00 C241.30,564.67 241.72,560.58 242.50,558.50 C243.28,556.42 244.42,555.67 246.00,555.50 C247.58,555.33 249.33,557.42 252.00,557.50 C254.67,557.58 257.33,556.38 262.00,556.00 C266.67,555.62 272.83,555.07 280.00,555.20 C287.17,555.33 298.33,556.33 305.00,556.80 C311.67,557.27 316.75,557.30 320.00,558.00 C323.25,558.70 323.57,559.17 324.50,561.00 C325.43,562.83 325.60,566.17 325.60,569.00 C325.60,571.83 325.43,576.13 324.50,578.00 C323.57,579.87 323.25,579.70 320.00,580.20 C316.75,580.70 311.67,580.75 305.00,581.00 C298.33,581.25 287.17,581.67 280.00,581.70 C272.83,581.73 266.67,581.48 262.00,581.20 C257.33,580.92 254.67,579.95 252.00,580.00 C249.33,580.05 247.58,581.75 246.00,581.50 C244.42,581.25 243.28,580.75 242.50,578.50 C241.72,576.25 241.30,571.33 241.30,568.00 Z" fill="#090707" filter="url(#bl1)"/>
<path d="M355.30,568.00 C355.30,564.27 356.58,559.06 357.75,556.79 C358.92,554.53 359.25,554.78 362.30,554.43 C365.35,554.07 370.30,554.57 376.05,554.67 C381.80,554.78 389.88,554.92 396.80,555.05 C403.72,555.17 411.80,555.32 417.55,555.42 C423.30,555.53 428.25,555.21 431.30,555.67 C434.35,556.14 434.68,556.19 435.85,558.21 C437.02,560.22 438.30,564.57 438.30,567.75 C438.30,570.93 437.02,575.29 435.85,577.31 C434.68,579.33 434.35,579.39 431.30,579.87 C428.25,580.35 423.30,580.06 417.55,580.20 C411.80,580.34 403.72,580.53 396.80,580.70 C389.88,580.87 381.80,581.06 376.05,581.20 C370.30,581.34 365.35,581.87 362.30,581.53 C359.25,581.20 358.92,581.45 357.75,579.19 C356.58,576.94 355.30,571.73 355.30,568.00 Z" fill="#090707" filter="url(#bl1)"/>
<path d="M463.60,568.50 C463.60,564.55 464.88,559.07 466.05,556.73 C467.22,554.38 467.65,554.73 470.60,554.42 C473.55,554.10 478.20,554.65 483.75,554.83 C489.30,555.00 497.18,555.24 503.90,555.45 C510.62,555.66 518.50,555.90 524.05,556.08 C529.60,556.25 534.25,555.98 537.20,556.48 C540.15,556.98 540.58,556.86 541.75,559.07 C542.92,561.29 544.20,566.19 544.20,569.75 C544.20,573.31 542.92,578.21 541.75,580.41 C540.58,582.61 540.15,582.50 537.20,582.96 C534.25,583.42 529.60,583.12 524.05,583.17 C518.50,583.23 510.62,583.30 503.90,583.30 C497.18,583.30 489.30,583.23 483.75,583.17 C478.20,583.12 473.55,583.42 470.60,582.96 C467.65,582.50 467.22,582.82 466.05,580.41 C464.88,578.00 463.60,572.45 463.60,568.50 Z" fill="#090707" filter="url(#bl1)"/>
</g>
<g clip-path="url(#sc7)"><rect x="113.5" y="607.0" width="446.1" height="59.5" fill="#ededed"/>
<path d="M130.70,637.30 C130.70,635.25 132.17,632.85 133.50,631.40 C134.83,629.95 136.00,629.07 138.70,628.60 C141.40,628.13 144.72,628.60 149.72,628.60 C154.73,628.60 162.41,628.60 168.75,628.60 C175.09,628.60 182.77,628.60 187.78,628.60 C192.78,628.60 196.10,628.13 198.80,628.60 C201.50,629.07 202.67,630.03 204.00,631.40 C205.33,632.77 206.80,634.91 206.80,636.80 C206.80,638.69 205.33,641.14 204.00,642.75 C202.67,644.36 201.50,645.59 198.80,646.46 C196.10,647.33 192.78,647.51 187.78,647.95 C182.77,648.39 175.09,649.02 168.75,649.10 C162.41,649.18 154.73,648.76 149.72,648.45 C144.72,648.14 141.40,648.05 138.70,647.25 C136.00,646.45 134.83,645.33 133.50,643.67 C132.17,642.02 130.70,639.35 130.70,637.30 Z" fill="#090707" filter="url(#bl1)"/>
<path d="M241.30,637.25 C241.30,635.40 242.77,633.17 244.10,631.80 C245.43,630.42 246.45,629.47 249.30,629.00 C252.15,628.53 255.88,629.00 261.18,629.00 C266.47,629.00 274.43,629.00 281.05,629.00 C287.68,629.00 295.63,629.00 300.93,629.00 C306.22,629.00 309.95,628.53 312.80,629.00 C315.65,629.47 316.67,630.55 318.00,631.80 C319.33,633.05 320.80,634.88 320.80,636.50 C320.80,638.12 319.33,640.11 318.00,641.50 C316.67,642.88 315.65,644.10 312.80,644.80 C309.95,645.51 306.22,645.43 300.93,645.73 C295.63,646.02 287.68,646.42 281.05,646.55 C274.43,646.67 266.47,646.57 261.18,646.48 C255.88,646.38 252.15,646.60 249.30,646.00 C246.45,645.40 245.43,644.35 244.10,642.89 C242.77,641.43 241.30,639.10 241.30,637.25 Z" fill="#090707" filter="url(#bl1)"/>
<path d="M351.90,638.90 C351.90,636.90 353.37,634.53 354.70,633.10 C356.03,631.67 357.05,630.77 359.90,630.30 C362.75,629.83 366.48,630.30 371.77,630.30 C377.07,630.30 385.02,630.30 391.65,630.30 C398.27,630.30 406.23,630.30 411.52,630.30 C416.82,630.30 420.55,629.83 423.40,630.30 C426.25,630.77 427.27,631.75 428.60,633.10 C429.93,634.45 431.40,636.55 431.40,638.40 C431.40,640.25 429.93,642.61 428.60,644.17 C427.27,645.73 426.25,646.93 423.40,647.76 C420.55,648.59 416.82,648.74 411.52,649.15 C406.23,649.56 398.27,650.12 391.65,650.20 C385.02,650.28 377.07,649.92 371.77,649.65 C366.48,649.38 362.75,649.32 359.90,648.56 C357.05,647.80 356.03,646.71 354.70,645.10 C353.37,643.49 351.90,640.90 351.90,638.90 Z" fill="#090707" filter="url(#bl1)"/>
<path d="M464.80,637.85 C464.80,635.86 466.27,633.44 467.60,632.00 C468.93,630.56 469.96,629.67 472.80,629.20 C475.64,628.73 479.37,629.20 484.65,629.20 C489.93,629.20 497.88,629.20 504.50,629.20 C511.12,629.20 519.07,629.20 524.35,629.20 C529.63,629.20 533.36,628.73 536.20,629.20 C539.04,629.67 540.07,630.64 541.40,632.00 C542.73,633.36 544.20,635.52 544.20,637.35 C544.20,639.18 542.73,641.51 541.40,643.01 C540.07,644.50 539.04,645.62 536.20,646.33 C533.36,647.03 529.63,646.97 524.35,647.25 C519.07,647.53 511.12,647.92 504.50,648.00 C497.88,648.08 489.93,647.90 484.65,647.75 C479.37,647.60 475.64,647.76 472.80,647.12 C469.96,646.49 468.93,645.48 467.60,643.94 C466.27,642.39 464.80,639.84 464.80,637.85 Z" fill="#090707" filter="url(#bl1)"/>
<rect x="115" y="660" width="443" height="2" fill="#d9d9d9" filter="url(#bl1)"/>
</g>
<rect x="112.1" y="158.8" width="448.9" height="508.7" fill="none" stroke="#0b0707" stroke-width="3.3"/>
<line x1="119" y1="91.6" x2="557" y2="91.6" stroke="#1e1111" stroke-width="2.7"/>
<line x1="924.20" y1="158.55" x2="924.20" y2="513.15" stroke="#0b0707" stroke-width="3.5" stroke-linecap="butt"/>
<line x1="909.00" y1="511.40" x2="1159.70" y2="511.40" stroke="#0b0707" stroke-width="3.5" stroke-linecap="butt"/>
<line x1="909.00" y1="160.10" x2="924.20" y2="160.10" stroke="#0b0707" stroke-width="3.1" stroke-linecap="butt"/>
<line x1="909.00" y1="248.00" x2="924.20" y2="248.00" stroke="#0b0707" stroke-width="3.1" stroke-linecap="butt"/>
<line x1="909.00" y1="335.90" x2="924.20" y2="335.90" stroke="#0b0707" stroke-width="3.1" stroke-linecap="butt"/>
<line x1="909.00" y1="423.00" x2="924.20" y2="423.00" stroke="#0b0707" stroke-width="3.1" stroke-linecap="butt"/>
<line x1="909.00" y1="511.40" x2="924.20" y2="511.40" stroke="#0b0707" stroke-width="3.1" stroke-linecap="butt"/>
<line x1="990.70" y1="511.40" x2="990.70" y2="525.60" stroke="#0b0707" stroke-width="3.1" stroke-linecap="butt"/>
<line x1="1090.90" y1="511.40" x2="1090.90" y2="525.60" stroke="#0b0707" stroke-width="3.1" stroke-linecap="butt"/>
<rect x="957.60" y="251.60" width="66.40" height="259.80" fill="#0b0707"/>
<rect x="1057.60" y="275.40" width="66.40" height="236.00" fill="#0b0707"/>
<rect x="1062.70" y="280.50" width="56.20" height="230.90" fill="#a2a1a6"/>
<line x1="990.70" y1="251.60" x2="990.70" y2="248.20" stroke="#0b0707" stroke-width="2.0" stroke-linecap="butt"/>
<line x1="974.00" y1="248.20" x2="1007.30" y2="248.20" stroke="#0b0707" stroke-width="2.2" stroke-linecap="butt"/>
<line x1="1090.90" y1="275.40" x2="1090.90" y2="272.80" stroke="#0b0707" stroke-width="2.0" stroke-linecap="butt"/>
<line x1="1074.40" y1="272.80" x2="1107.60" y2="272.80" stroke="#0b0707" stroke-width="2.2" stroke-linecap="butt"/>
<polyline points="990.80,237.70 990.80,194.10 1091.00,194.10 1091.00,264.70" fill="none" stroke="#0b0707" stroke-width="3.3" stroke-linejoin="miter"/>
<rect x="1238.50" y="174.20" width="36.70" height="18.60" fill="#0b0707"/>
<rect x="1238.50" y="222.00" width="36.70" height="18.20" fill="#0b0707"/>
<rect x="1243.20" y="226.70" width="27.30" height="8.80" fill="#a2a1a6"/>
<line x1="1501.90" y1="172.15" x2="1501.90" y2="534.55" stroke="#0b0707" stroke-width="3.5" stroke-linecap="butt"/>
<line x1="1486.60" y1="532.80" x2="1743.00" y2="532.80" stroke="#0b0707" stroke-width="3.5" stroke-linecap="butt"/>
<line x1="1486.60" y1="173.70" x2="1501.90" y2="173.70" stroke="#0b0707" stroke-width="3.1" stroke-linecap="butt"/>
<line x1="1486.60" y1="263.50" x2="1501.90" y2="263.50" stroke="#0b0707" stroke-width="3.1" stroke-linecap="butt"/>
<line x1="1486.60" y1="353.00" x2="1501.90" y2="353.00" stroke="#0b0707" stroke-width="3.1" stroke-linecap="butt"/>
<line x1="1486.60" y1="442.50" x2="1501.90" y2="442.50" stroke="#0b0707" stroke-width="3.1" stroke-linecap="butt"/>
<line x1="1486.60" y1="532.50" x2="1501.90" y2="532.50" stroke="#0b0707" stroke-width="3.1" stroke-linecap="butt"/>
<line x1="1570.00" y1="532.80" x2="1570.00" y2="547.50" stroke="#0b0707" stroke-width="3.1" stroke-linecap="butt"/>
<line x1="1672.30" y1="532.80" x2="1672.30" y2="547.50" stroke="#0b0707" stroke-width="3.1" stroke-linecap="butt"/>
<rect x="1536.00" y="306.30" width="68.00" height="226.50" fill="#0b0707"/>
<rect x="1638.30" y="220.30" width="68.20" height="312.50" fill="#0b0707"/>
<rect x="1643.60" y="225.60" width="57.60" height="307.20" fill="#a2a1a6"/>
<line x1="1569.90" y1="306.30" x2="1569.90" y2="284.60" stroke="#0b0707" stroke-width="2.0" stroke-linecap="butt"/>
<line x1="1552.70" y1="284.60" x2="1587.30" y2="284.60" stroke="#0b0707" stroke-width="2.2" stroke-linecap="butt"/>
<line x1="1672.60" y1="220.30" x2="1672.60" y2="200.70" stroke="#0b0707" stroke-width="2.0" stroke-linecap="butt"/>
<line x1="1655.50" y1="200.70" x2="1689.80" y2="200.70" stroke="#0b0707" stroke-width="2.2" stroke-linecap="butt"/>
<polyline points="1571.20,269.90 1571.20,156.50 1670.80,156.50 1670.80,188.30" fill="none" stroke="#0b0707" stroke-width="3.3" stroke-linejoin="miter"/>
<rect x="1823.50" y="188.20" width="38.30" height="18.80" fill="#0b0707"/>
<rect x="1823.50" y="236.40" width="38.30" height="19.10" fill="#0b0707"/>
<rect x="1828.50" y="241.40" width="28.30" height="9.10" fill="#a2a1a6"/>
<line x1="912.10" y1="864.25" x2="912.10" y2="1195.65" stroke="#0b0707" stroke-width="3.3" stroke-linecap="butt"/>
<line x1="898.80" y1="1194.00" x2="1132.70" y2="1194.00" stroke="#0b0707" stroke-width="3.3" stroke-linecap="butt"/>
<line x1="898.80" y1="865.70" x2="912.10" y2="865.70" stroke="#0b0707" stroke-width="2.9" stroke-linecap="butt"/>
<line x1="898.80" y1="947.70" x2="912.10" y2="947.70" stroke="#0b0707" stroke-width="2.9" stroke-linecap="butt"/>
<line x1="898.80" y1="1030.00" x2="912.10" y2="1030.00" stroke="#0b0707" stroke-width="2.9" stroke-linecap="butt"/>
<line x1="898.80" y1="1111.80" x2="912.10" y2="1111.80" stroke="#0b0707" stroke-width="2.9" stroke-linecap="butt"/>
<line x1="898.80" y1="1194.00" x2="912.10" y2="1194.00" stroke="#0b0707" stroke-width="2.9" stroke-linecap="butt"/>
<line x1="974.50" y1="1194.00" x2="974.50" y2="1207.60" stroke="#0b0707" stroke-width="2.9" stroke-linecap="butt"/>
<line x1="1067.60" y1="1194.00" x2="1067.60" y2="1207.60" stroke="#0b0707" stroke-width="2.9" stroke-linecap="butt"/>
<rect x="943.20" y="1020.30" width="62.50" height="173.70" fill="#0b0707"/>
<rect x="1036.80" y="945.30" width="62.10" height="248.70" fill="#0b0707"/>
<rect x="1041.60" y="950.10" width="52.50" height="243.90" fill="#a2a1a6"/>
<line x1="974.60" y1="1020.30" x2="974.60" y2="1005.40" stroke="#0b0707" stroke-width="2.0" stroke-linecap="butt"/>
<line x1="959.10" y1="1005.40" x2="989.80" y2="1005.40" stroke="#0b0707" stroke-width="2.2" stroke-linecap="butt"/>
<line x1="1068.00" y1="945.30" x2="1068.00" y2="912.70" stroke="#0b0707" stroke-width="2.0" stroke-linecap="butt"/>
<line x1="1052.50" y1="912.70" x2="1083.80" y2="912.70" stroke="#0b0707" stroke-width="2.2" stroke-linecap="butt"/>
<polyline points="974.70,986.30 974.70,859.90 1068.30,859.90 1068.30,909.20" fill="none" stroke="#0b0707" stroke-width="3.3" stroke-linejoin="miter"/>
<rect x="1205.90" y="879.30" width="35.10" height="17.20" fill="#0b0707"/>
<rect x="1205.90" y="923.00" width="35.10" height="16.90" fill="#0b0707"/>
<rect x="1210.60" y="927.70" width="25.70" height="7.50" fill="#a2a1a6"/>
<line x1="1496.10" y1="859.35" x2="1496.10" y2="1194.85" stroke="#0b0707" stroke-width="3.3" stroke-linecap="butt"/>
<line x1="1482.00" y1="1193.20" x2="1719.40" y2="1193.20" stroke="#0b0707" stroke-width="3.3" stroke-linecap="butt"/>
<line x1="1482.00" y1="860.80" x2="1496.10" y2="860.80" stroke="#0b0707" stroke-width="2.9" stroke-linecap="butt"/>
<line x1="1482.00" y1="971.20" x2="1496.10" y2="971.20" stroke="#0b0707" stroke-width="2.9" stroke-linecap="butt"/>
<line x1="1482.00" y1="1082.20" x2="1496.10" y2="1082.20" stroke="#0b0707" stroke-width="2.9" stroke-linecap="butt"/>
<line x1="1482.00" y1="1193.20" x2="1496.10" y2="1193.20" stroke="#0b0707" stroke-width="2.9" stroke-linecap="butt"/>
<line x1="1559.30" y1="1193.20" x2="1559.30" y2="1206.60" stroke="#0b0707" stroke-width="2.9" stroke-linecap="butt"/>
<line x1="1654.10" y1="1193.20" x2="1654.10" y2="1206.60" stroke="#0b0707" stroke-width="2.9" stroke-linecap="butt"/>
<rect x="1528.00" y="987.10" width="62.90" height="206.10" fill="#0b0707"/>
<rect x="1623.30" y="914.50" width="62.30" height="278.70" fill="#0b0707"/>
<rect x="1628.10" y="919.30" width="52.70" height="273.90" fill="#a2a1a6"/>
<line x1="1559.40" y1="987.10" x2="1559.40" y2="944.80" stroke="#0b0707" stroke-width="2.0" stroke-linecap="butt"/>
<line x1="1543.60" y1="944.80" x2="1575.00" y2="944.80" stroke="#0b0707" stroke-width="2.2" stroke-linecap="butt"/>
<line x1="1654.50" y1="914.50" x2="1654.50" y2="893.30" stroke="#0b0707" stroke-width="2.0" stroke-linecap="butt"/>
<line x1="1638.70" y1="893.30" x2="1670.30" y2="893.30" stroke="#0b0707" stroke-width="2.2" stroke-linecap="butt"/>
<polyline points="1559.50,937.70 1559.50,860.80 1650.80,860.80 1650.80,882.90" fill="none" stroke="#0b0707" stroke-width="3.3" stroke-linejoin="miter"/>
<rect x="1794.00" y="874.30" width="35.10" height="17.40" fill="#0b0707"/>
<rect x="1794.00" y="919.10" width="35.10" height="17.40" fill="#0b0707"/>
<rect x="1798.70" y="923.80" width="25.70" height="8.00" fill="#a2a1a6"/>
<line x1="910.70" y1="1366.40" x2="910.70" y2="1714.90" stroke="#0b0707" stroke-width="3.4" stroke-linecap="butt"/>
<line x1="895.90" y1="1713.20" x2="1142.70" y2="1713.20" stroke="#0b0707" stroke-width="3.4" stroke-linecap="butt"/>
<line x1="895.90" y1="1367.90" x2="910.70" y2="1367.90" stroke="#0b0707" stroke-width="3.0" stroke-linecap="butt"/>
<line x1="895.90" y1="1436.90" x2="910.70" y2="1436.90" stroke="#0b0707" stroke-width="3.0" stroke-linecap="butt"/>
<line x1="895.90" y1="1506.10" x2="910.70" y2="1506.10" stroke="#0b0707" stroke-width="3.0" stroke-linecap="butt"/>
<line x1="895.90" y1="1574.60" x2="910.70" y2="1574.60" stroke="#0b0707" stroke-width="3.0" stroke-linecap="butt"/>
<line x1="895.90" y1="1643.60" x2="910.70" y2="1643.60" stroke="#0b0707" stroke-width="3.0" stroke-linecap="butt"/>
<line x1="895.90" y1="1713.20" x2="910.70" y2="1713.20" stroke="#0b0707" stroke-width="3.0" stroke-linecap="butt"/>
<line x1="975.90" y1="1713.20" x2="975.90" y2="1727.30" stroke="#0b0707" stroke-width="3.0" stroke-linecap="butt"/>
<line x1="1074.70" y1="1713.20" x2="1074.70" y2="1727.30" stroke="#0b0707" stroke-width="3.0" stroke-linecap="butt"/>
<rect x="943.70" y="1489.80" width="65.30" height="223.40" fill="#0b0707"/>
<rect x="1042.20" y="1536.80" width="65.20" height="176.40" fill="#0b0707"/>
<rect x="1046.80" y="1541.40" width="56.00" height="171.80" fill="#a2a1a6"/>
<line x1="975.90" y1="1489.80" x2="975.90" y2="1437.50" stroke="#0b0707" stroke-width="2.0" stroke-linecap="butt"/>
<line x1="960.10" y1="1437.50" x2="992.40" y2="1437.50" stroke="#0b0707" stroke-width="2.2" stroke-linecap="butt"/>
<line x1="1074.90" y1="1536.80" x2="1074.90" y2="1492.00" stroke="#0b0707" stroke-width="2.0" stroke-linecap="butt"/>
<line x1="1058.50" y1="1492.00" x2="1091.30" y2="1492.00" stroke="#0b0707" stroke-width="2.2" stroke-linecap="butt"/>
<rect x="1219.90" y="1381.60" width="36.60" height="18.10" fill="#0b0707"/>
<rect x="1219.90" y="1428.20" width="36.60" height="17.90" fill="#0b0707"/>
<rect x="1224.70" y="1433.00" width="27.00" height="8.30" fill="#a2a1a6"/>
<line x1="1495.80" y1="1366.40" x2="1495.80" y2="1714.90" stroke="#0b0707" stroke-width="3.4" stroke-linecap="butt"/>
<line x1="1482.10" y1="1713.20" x2="1727.40" y2="1713.20" stroke="#0b0707" stroke-width="3.4" stroke-linecap="butt"/>
<line x1="1482.10" y1="1367.90" x2="1495.80" y2="1367.90" stroke="#0b0707" stroke-width="3.0" stroke-linecap="butt"/>
<line x1="1482.10" y1="1436.90" x2="1495.80" y2="1436.90" stroke="#0b0707" stroke-width="3.0" stroke-linecap="butt"/>
<line x1="1482.10" y1="1506.10" x2="1495.80" y2="1506.10" stroke="#0b0707" stroke-width="3.0" stroke-linecap="butt"/>
<line x1="1482.10" y1="1574.60" x2="1495.80" y2="1574.60" stroke="#0b0707" stroke-width="3.0" stroke-linecap="butt"/>
<line x1="1482.10" y1="1643.60" x2="1495.80" y2="1643.60" stroke="#0b0707" stroke-width="3.0" stroke-linecap="butt"/>
<line x1="1482.10" y1="1713.20" x2="1495.80" y2="1713.20" stroke="#0b0707" stroke-width="3.0" stroke-linecap="butt"/>
<line x1="1561.30" y1="1713.20" x2="1561.30" y2="1727.30" stroke="#0b0707" stroke-width="3.0" stroke-linecap="butt"/>
<line x1="1659.90" y1="1713.20" x2="1659.90" y2="1727.30" stroke="#0b0707" stroke-width="3.0" stroke-linecap="butt"/>
<rect x="1529.10" y="1472.60" width="65.20" height="240.60" fill="#0b0707"/>
<rect x="1628.40" y="1509.60" width="64.20" height="203.60" fill="#0b0707"/>
<rect x="1633.00" y="1514.20" width="55.00" height="199.00" fill="#a2a1a6"/>
<line x1="1561.60" y1="1472.60" x2="1561.60" y2="1415.90" stroke="#0b0707" stroke-width="2.0" stroke-linecap="butt"/>
<line x1="1545.30" y1="1415.90" x2="1578.20" y2="1415.90" stroke="#0b0707" stroke-width="2.2" stroke-linecap="butt"/>
<line x1="1660.60" y1="1509.60" x2="1660.60" y2="1457.70" stroke="#0b0707" stroke-width="2.0" stroke-linecap="butt"/>
<line x1="1643.90" y1="1457.70" x2="1676.60" y2="1457.70" stroke="#0b0707" stroke-width="2.2" stroke-linecap="butt"/>
<rect x="1805.00" y="1381.60" width="37.00" height="18.10" fill="#0b0707"/>
<rect x="1805.00" y="1428.20" width="37.00" height="17.90" fill="#0b0707"/>
<rect x="1809.80" y="1433.00" width="27.40" height="8.30" fill="#a2a1a6"/>
<line x1="124.40" y1="873.55" x2="124.40" y2="1183.10" stroke="#0b0707" stroke-width="3.2" stroke-linecap="butt"/>
<line x1="115.40" y1="1181.50" x2="586.00" y2="1181.50" stroke="#0b0707" stroke-width="3.2" stroke-linecap="butt"/>
<line x1="115.40" y1="875.00" x2="124.40" y2="875.00" stroke="#0b0707" stroke-width="2.9000000000000004" stroke-linecap="butt"/>
<line x1="115.40" y1="977.20" x2="124.40" y2="977.20" stroke="#0b0707" stroke-width="2.9000000000000004" stroke-linecap="butt"/>
<line x1="115.40" y1="1079.30" x2="124.40" y2="1079.30" stroke="#0b0707" stroke-width="2.9000000000000004" stroke-linecap="butt"/>
<line x1="115.40" y1="1181.50" x2="124.40" y2="1181.50" stroke="#0b0707" stroke-width="2.9000000000000004" stroke-linecap="butt"/>
<line x1="124.50" y1="1181.50" x2="124.50" y2="1190.40" stroke="#0b0707" stroke-width="2.9000000000000004" stroke-linecap="butt"/>
<line x1="239.50" y1="1181.50" x2="239.50" y2="1190.40" stroke="#0b0707" stroke-width="2.9000000000000004" stroke-linecap="butt"/>
<line x1="354.50" y1="1181.50" x2="354.50" y2="1190.40" stroke="#0b0707" stroke-width="2.9000000000000004" stroke-linecap="butt"/>
<line x1="469.50" y1="1181.50" x2="469.50" y2="1190.40" stroke="#0b0707" stroke-width="2.9000000000000004" stroke-linecap="butt"/>
<line x1="584.50" y1="1181.50" x2="584.50" y2="1190.40" stroke="#0b0707" stroke-width="2.9000000000000004" stroke-linecap="butt"/>
<polyline points="132.10,963.00 169.80,978.20 207.80,986.00 245.90,1043.20 284.10,1062.00 322.10,1062.00 360.60,1007.50 399.00,1044.60 437.20,1054.30 475.80,1081.60 514.10,1087.50 552.10,1094.40" fill="none" stroke="#e5131d" stroke-width="2.7" stroke-linejoin="round"/>
<line x1="132.10" y1="936.20" x2="132.10" y2="990.10" stroke="#e5131d" stroke-width="2.5" stroke-linecap="butt"/>
<line x1="126.00" y1="936.20" x2="138.20" y2="936.20" stroke="#e5131d" stroke-width="2.8" stroke-linecap="butt"/>
<line x1="126.00" y1="990.10" x2="138.20" y2="990.10" stroke="#e5131d" stroke-width="2.8" stroke-linecap="butt"/>
<line x1="169.80" y1="956.30" x2="169.80" y2="1000.30" stroke="#e5131d" stroke-width="2.5" stroke-linecap="butt"/>
<line x1="163.70" y1="956.30" x2="175.90" y2="956.30" stroke="#e5131d" stroke-width="2.8" stroke-linecap="butt"/>
<line x1="163.70" y1="1000.30" x2="175.90" y2="1000.30" stroke="#e5131d" stroke-width="2.8" stroke-linecap="butt"/>
<line x1="207.80" y1="965.60" x2="207.80" y2="1006.70" stroke="#e5131d" stroke-width="2.5" stroke-linecap="butt"/>
<line x1="201.70" y1="965.60" x2="213.90" y2="965.60" stroke="#e5131d" stroke-width="2.8" stroke-linecap="butt"/>
<line x1="201.70" y1="1006.70" x2="213.90" y2="1006.70" stroke="#e5131d" stroke-width="2.8" stroke-linecap="butt"/>
<line x1="245.90" y1="1025.80" x2="245.90" y2="1061.40" stroke="#e5131d" stroke-width="2.5" stroke-linecap="butt"/>
<line x1="239.80" y1="1025.80" x2="252.00" y2="1025.80" stroke="#e5131d" stroke-width="2.8" stroke-linecap="butt"/>
<line x1="239.80" y1="1061.40" x2="252.00" y2="1061.40" stroke="#e5131d" stroke-width="2.8" stroke-linecap="butt"/>
<line x1="360.60" y1="996.00" x2="360.60" y2="1019.90" stroke="#e5131d" stroke-width="2.5" stroke-linecap="butt"/>
<line x1="354.50" y1="996.00" x2="366.70" y2="996.00" stroke="#e5131d" stroke-width="2.8" stroke-linecap="butt"/>
<line x1="354.50" y1="1019.90" x2="366.70" y2="1019.90" stroke="#e5131d" stroke-width="2.8" stroke-linecap="butt"/>
<line x1="399.00" y1="1034.80" x2="399.00" y2="1054.60" stroke="#e5131d" stroke-width="2.5" stroke-linecap="butt"/>
<line x1="392.90" y1="1034.80" x2="405.10" y2="1034.80" stroke="#e5131d" stroke-width="2.8" stroke-linecap="butt"/>
<line x1="392.90" y1="1054.60" x2="405.10" y2="1054.60" stroke="#e5131d" stroke-width="2.8" stroke-linecap="butt"/>
<line x1="475.80" y1="1073.40" x2="475.80" y2="1090.10" stroke="#e5131d" stroke-width="2.5" stroke-linecap="butt"/>
<line x1="469.70" y1="1073.40" x2="481.90" y2="1073.40" stroke="#e5131d" stroke-width="2.8" stroke-linecap="butt"/>
<line x1="469.70" y1="1090.10" x2="481.90" y2="1090.10" stroke="#e5131d" stroke-width="2.8" stroke-linecap="butt"/>
<rect x="126.10" y="957.00" width="12.00" height="12.00" fill="#e5131d"/>
<rect x="163.80" y="972.20" width="12.00" height="12.00" fill="#e5131d"/>
<rect x="201.80" y="980.00" width="12.00" height="12.00" fill="#e5131d"/>
<rect x="239.90" y="1037.20" width="12.00" height="12.00" fill="#e5131d"/>
<rect x="278.10" y="1056.00" width="12.00" height="12.00" fill="#e5131d"/>
<rect x="316.10" y="1056.00" width="12.00" height="12.00" fill="#e5131d"/>
<rect x="354.60" y="1001.50" width="12.00" height="12.00" fill="#e5131d"/>
<rect x="393.00" y="1038.60" width="12.00" height="12.00" fill="#e5131d"/>
<rect x="431.20" y="1048.30" width="12.00" height="12.00" fill="#e5131d"/>
<rect x="469.80" y="1075.60" width="12.00" height="12.00" fill="#e5131d"/>
<rect x="508.10" y="1081.50" width="12.00" height="12.00" fill="#e5131d"/>
<rect x="546.10" y="1088.40" width="12.00" height="12.00" fill="#e5131d"/>
<polyline points="132.10,912.80 169.80,935.00 207.80,942.30 245.90,1018.90 284.10,1045.60 322.10,1041.30 360.60,955.00 399.00,1009.70 437.20,1023.90 475.80,1063.20 514.10,1074.90 552.10,1078.60" fill="none" stroke="#1e4aa1" stroke-width="2.7" stroke-linejoin="round"/>
<line x1="132.10" y1="897.30" x2="132.10" y2="928.10" stroke="#1e4aa1" stroke-width="2.5" stroke-linecap="butt"/>
<line x1="126.00" y1="897.30" x2="138.20" y2="897.30" stroke="#1e4aa1" stroke-width="2.8" stroke-linecap="butt"/>
<line x1="126.00" y1="928.10" x2="138.20" y2="928.10" stroke="#1e4aa1" stroke-width="2.8" stroke-linecap="butt"/>
<line x1="169.80" y1="919.80" x2="169.80" y2="949.80" stroke="#1e4aa1" stroke-width="2.5" stroke-linecap="butt"/>
<line x1="163.70" y1="919.80" x2="175.90" y2="919.80" stroke="#1e4aa1" stroke-width="2.8" stroke-linecap="butt"/>
<line x1="163.70" y1="949.80" x2="175.90" y2="949.80" stroke="#1e4aa1" stroke-width="2.8" stroke-linecap="butt"/>
<line x1="207.80" y1="927.10" x2="207.80" y2="956.90" stroke="#1e4aa1" stroke-width="2.5" stroke-linecap="butt"/>
<line x1="201.70" y1="927.10" x2="213.90" y2="927.10" stroke="#1e4aa1" stroke-width="2.8" stroke-linecap="butt"/>
<line x1="201.70" y1="956.90" x2="213.90" y2="956.90" stroke="#1e4aa1" stroke-width="2.8" stroke-linecap="butt"/>
<line x1="245.90" y1="1004.60" x2="245.90" y2="1033.40" stroke="#1e4aa1" stroke-width="2.5" stroke-linecap="butt"/>
<line x1="239.80" y1="1004.60" x2="252.00" y2="1004.60" stroke="#1e4aa1" stroke-width="2.8" stroke-linecap="butt"/>
<line x1="239.80" y1="1033.40" x2="252.00" y2="1033.40" stroke="#1e4aa1" stroke-width="2.8" stroke-linecap="butt"/>
<line x1="284.10" y1="1037.50" x2="284.10" y2="1053.50" stroke="#1e4aa1" stroke-width="2.5" stroke-linecap="butt"/>
<line x1="278.00" y1="1037.50" x2="290.20" y2="1037.50" stroke="#1e4aa1" stroke-width="2.8" stroke-linecap="butt"/>
<line x1="278.00" y1="1053.50" x2="290.20" y2="1053.50" stroke="#1e4aa1" stroke-width="2.8" stroke-linecap="butt"/>
<line x1="322.10" y1="1031.60" x2="322.10" y2="1049.90" stroke="#1e4aa1" stroke-width="2.5" stroke-linecap="butt"/>
<line x1="316.00" y1="1031.60" x2="328.20" y2="1031.60" stroke="#1e4aa1" stroke-width="2.8" stroke-linecap="butt"/>
<line x1="316.00" y1="1049.90" x2="328.20" y2="1049.90" stroke="#1e4aa1" stroke-width="2.8" stroke-linecap="butt"/>
<line x1="360.60" y1="939.20" x2="360.60" y2="970.80" stroke="#1e4aa1" stroke-width="2.5" stroke-linecap="butt"/>
<line x1="354.50" y1="939.20" x2="366.70" y2="939.20" stroke="#1e4aa1" stroke-width="2.8" stroke-linecap="butt"/>
<line x1="354.50" y1="970.80" x2="366.70" y2="970.80" stroke="#1e4aa1" stroke-width="2.8" stroke-linecap="butt"/>
<line x1="399.00" y1="996.00" x2="399.00" y2="1023.50" stroke="#1e4aa1" stroke-width="2.5" stroke-linecap="butt"/>
<line x1="392.90" y1="996.00" x2="405.10" y2="996.00" stroke="#1e4aa1" stroke-width="2.8" stroke-linecap="butt"/>
<line x1="392.90" y1="1023.50" x2="405.10" y2="1023.50" stroke="#1e4aa1" stroke-width="2.8" stroke-linecap="butt"/>
<line x1="437.20" y1="1010.90" x2="437.20" y2="1037.60" stroke="#1e4aa1" stroke-width="2.5" stroke-linecap="butt"/>
<line x1="431.10" y1="1010.90" x2="443.30" y2="1010.90" stroke="#1e4aa1" stroke-width="2.8" stroke-linecap="butt"/>
<line x1="431.10" y1="1037.60" x2="443.30" y2="1037.60" stroke="#1e4aa1" stroke-width="2.8" stroke-linecap="butt"/>
<line x1="552.10" y1="1072.10" x2="552.10" y2="1085.50" stroke="#1e4aa1" stroke-width="2.5" stroke-linecap="butt"/>
<line x1="546.00" y1="1072.10" x2="558.20" y2="1072.10" stroke="#1e4aa1" stroke-width="2.8" stroke-linecap="butt"/>
<line x1="546.00" y1="1085.50" x2="558.20" y2="1085.50" stroke="#1e4aa1" stroke-width="2.8" stroke-linecap="butt"/>
<circle cx="132.10" cy="912.80" r="6.4" fill="#1e4aa1"/>
<circle cx="169.80" cy="935.00" r="6.4" fill="#1e4aa1"/>
<circle cx="207.80" cy="942.30" r="6.4" fill="#1e4aa1"/>
<circle cx="245.90" cy="1018.90" r="6.4" fill="#1e4aa1"/>
<circle cx="284.10" cy="1045.60" r="6.4" fill="#1e4aa1"/>
<circle cx="322.10" cy="1041.30" r="6.4" fill="#1e4aa1"/>
<circle cx="360.60" cy="955.00" r="6.4" fill="#1e4aa1"/>
<circle cx="399.00" cy="1009.70" r="6.4" fill="#1e4aa1"/>
<circle cx="437.20" cy="1023.90" r="6.4" fill="#1e4aa1"/>
<circle cx="475.80" cy="1063.20" r="6.4" fill="#1e4aa1"/>
<circle cx="514.10" cy="1074.90" r="6.4" fill="#1e4aa1"/>
<circle cx="552.10" cy="1078.60" r="6.4" fill="#1e4aa1"/>
<line x1="131.00" y1="1405.35" x2="131.00" y2="1715.40" stroke="#0b0707" stroke-width="3.2" stroke-linecap="butt"/>
<line x1="122.30" y1="1713.80" x2="592.50" y2="1713.80" stroke="#0b0707" stroke-width="3.2" stroke-linecap="butt"/>
<line x1="122.30" y1="1406.80" x2="131.00" y2="1406.80" stroke="#0b0707" stroke-width="2.9000000000000004" stroke-linecap="butt"/>
<line x1="122.30" y1="1509.10" x2="131.00" y2="1509.10" stroke="#0b0707" stroke-width="2.9000000000000004" stroke-linecap="butt"/>
<line x1="122.30" y1="1611.20" x2="131.00" y2="1611.20" stroke="#0b0707" stroke-width="2.9000000000000004" stroke-linecap="butt"/>
<line x1="122.30" y1="1713.30" x2="131.00" y2="1713.30" stroke="#0b0707" stroke-width="2.9000000000000004" stroke-linecap="butt"/>
<line x1="130.90" y1="1713.80" x2="130.90" y2="1723.00" stroke="#0b0707" stroke-width="2.9000000000000004" stroke-linecap="butt"/>
<line x1="246.10" y1="1713.80" x2="246.10" y2="1723.00" stroke="#0b0707" stroke-width="2.9000000000000004" stroke-linecap="butt"/>
<line x1="361.30" y1="1713.80" x2="361.30" y2="1723.00" stroke="#0b0707" stroke-width="2.9000000000000004" stroke-linecap="butt"/>
<line x1="476.50" y1="1713.80" x2="476.50" y2="1723.00" stroke="#0b0707" stroke-width="2.9000000000000004" stroke-linecap="butt"/>
<line x1="591.70" y1="1713.80" x2="591.70" y2="1723.00" stroke="#0b0707" stroke-width="2.9000000000000004" stroke-linecap="butt"/>
<polyline points="138.70,1696.00 176.70,1696.70 214.60,1696.70 252.90,1631.40 291.00,1592.10 328.80,1564.50 367.50,1561.70 405.80,1557.10 444.00,1554.60 482.70,1673.00 521.00,1677.20 559.00,1677.90" fill="none" stroke="#e5131d" stroke-width="1.9" stroke-linejoin="round"/>
<line x1="138.70" y1="1690.00" x2="138.70" y2="1702.00" stroke="#e5131d" stroke-width="1.9" stroke-linecap="butt"/>
<line x1="132.60" y1="1690.00" x2="144.80" y2="1690.00" stroke="#e5131d" stroke-width="2.1999999999999997" stroke-linecap="butt"/>
<line x1="132.60" y1="1702.00" x2="144.80" y2="1702.00" stroke="#e5131d" stroke-width="2.1999999999999997" stroke-linecap="butt"/>
<line x1="252.90" y1="1607.90" x2="252.90" y2="1653.70" stroke="#e5131d" stroke-width="1.9" stroke-linecap="butt"/>
<line x1="246.80" y1="1607.90" x2="259.00" y2="1607.90" stroke="#e5131d" stroke-width="2.1999999999999997" stroke-linecap="butt"/>
<line x1="246.80" y1="1653.70" x2="259.00" y2="1653.70" stroke="#e5131d" stroke-width="2.1999999999999997" stroke-linecap="butt"/>
<line x1="291.00" y1="1560.80" x2="291.00" y2="1620.90" stroke="#e5131d" stroke-width="1.9" stroke-linecap="butt"/>
<line x1="284.90" y1="1560.80" x2="297.10" y2="1560.80" stroke="#e5131d" stroke-width="2.1999999999999997" stroke-linecap="butt"/>
<line x1="284.90" y1="1620.90" x2="297.10" y2="1620.90" stroke="#e5131d" stroke-width="2.1999999999999997" stroke-linecap="butt"/>
<line x1="328.80" y1="1529.10" x2="328.80" y2="1600.40" stroke="#e5131d" stroke-width="1.9" stroke-linecap="butt"/>
<line x1="322.70" y1="1529.10" x2="334.90" y2="1529.10" stroke="#e5131d" stroke-width="2.1999999999999997" stroke-linecap="butt"/>
<line x1="322.70" y1="1600.40" x2="334.90" y2="1600.40" stroke="#e5131d" stroke-width="2.1999999999999997" stroke-linecap="butt"/>
<line x1="367.50" y1="1522.30" x2="367.50" y2="1601.40" stroke="#e5131d" stroke-width="1.9" stroke-linecap="butt"/>
<line x1="361.40" y1="1522.30" x2="373.60" y2="1522.30" stroke="#e5131d" stroke-width="2.1999999999999997" stroke-linecap="butt"/>
<line x1="361.40" y1="1601.40" x2="373.60" y2="1601.40" stroke="#e5131d" stroke-width="2.1999999999999997" stroke-linecap="butt"/>
<line x1="405.80" y1="1518.10" x2="405.80" y2="1596.40" stroke="#e5131d" stroke-width="1.9" stroke-linecap="butt"/>
<line x1="399.70" y1="1518.10" x2="411.90" y2="1518.10" stroke="#e5131d" stroke-width="2.1999999999999997" stroke-linecap="butt"/>
<line x1="399.70" y1="1596.40" x2="411.90" y2="1596.40" stroke="#e5131d" stroke-width="2.1999999999999997" stroke-linecap="butt"/>
<line x1="444.00" y1="1515.90" x2="444.00" y2="1593.30" stroke="#e5131d" stroke-width="1.9" stroke-linecap="butt"/>
<line x1="437.90" y1="1515.90" x2="450.10" y2="1515.90" stroke="#e5131d" stroke-width="2.1999999999999997" stroke-linecap="butt"/>
<line x1="437.90" y1="1593.30" x2="450.10" y2="1593.30" stroke="#e5131d" stroke-width="2.1999999999999997" stroke-linecap="butt"/>
<line x1="482.70" y1="1665.20" x2="482.70" y2="1680.80" stroke="#e5131d" stroke-width="1.9" stroke-linecap="butt"/>
<line x1="476.60" y1="1665.20" x2="488.80" y2="1665.20" stroke="#e5131d" stroke-width="2.1999999999999997" stroke-linecap="butt"/>
<line x1="476.60" y1="1680.80" x2="488.80" y2="1680.80" stroke="#e5131d" stroke-width="2.1999999999999997" stroke-linecap="butt"/>
<line x1="521.00" y1="1669.00" x2="521.00" y2="1685.40" stroke="#e5131d" stroke-width="1.9" stroke-linecap="butt"/>
<line x1="514.90" y1="1669.00" x2="527.10" y2="1669.00" stroke="#e5131d" stroke-width="2.1999999999999997" stroke-linecap="butt"/>
<line x1="514.90" y1="1685.40" x2="527.10" y2="1685.40" stroke="#e5131d" stroke-width="2.1999999999999997" stroke-linecap="butt"/>
<line x1="559.00" y1="1669.70" x2="559.00" y2="1686.10" stroke="#e5131d" stroke-width="1.9" stroke-linecap="butt"/>
<line x1="552.90" y1="1669.70" x2="565.10" y2="1669.70" stroke="#e5131d" stroke-width="2.1999999999999997" stroke-linecap="butt"/>
<line x1="552.90" y1="1686.10" x2="565.10" y2="1686.10" stroke="#e5131d" stroke-width="2.1999999999999997" stroke-linecap="butt"/>
<rect x="132.50" y="1689.80" width="12.40" height="12.40" fill="#e5131d"/>
<rect x="170.50" y="1690.50" width="12.40" height="12.40" fill="#e5131d"/>
<rect x="208.40" y="1690.50" width="12.40" height="12.40" fill="#e5131d"/>
<rect x="246.70" y="1625.20" width="12.40" height="12.40" fill="#e5131d"/>
<rect x="284.80" y="1585.90" width="12.40" height="12.40" fill="#e5131d"/>
<rect x="322.60" y="1558.30" width="12.40" height="12.40" fill="#e5131d"/>
<rect x="361.30" y="1555.50" width="12.40" height="12.40" fill="#e5131d"/>
<rect x="399.60" y="1550.90" width="12.40" height="12.40" fill="#e5131d"/>
<rect x="437.80" y="1548.40" width="12.40" height="12.40" fill="#e5131d"/>
<rect x="476.50" y="1666.80" width="12.40" height="12.40" fill="#e5131d"/>
<rect x="514.80" y="1671.00" width="12.40" height="12.40" fill="#e5131d"/>
<rect x="552.80" y="1671.70" width="12.40" height="12.40" fill="#e5131d"/>
<polyline points="138.70,1694.40 176.70,1696.70 214.60,1696.70 252.90,1647.00 291.00,1615.40 328.80,1591.40 367.50,1583.90 405.80,1579.10 444.00,1576.10 482.70,1681.20 521.00,1687.10 559.00,1686.80" fill="none" stroke="#1e4aa1" stroke-width="1.9" stroke-linejoin="round"/>
<line x1="138.70" y1="1686.80" x2="138.70" y2="1702.00" stroke="#1e4aa1" stroke-width="1.9" stroke-linecap="butt"/>
<line x1="132.60" y1="1686.80" x2="144.80" y2="1686.80" stroke="#1e4aa1" stroke-width="2.1999999999999997" stroke-linecap="butt"/>
<line x1="132.60" y1="1702.00" x2="144.80" y2="1702.00" stroke="#1e4aa1" stroke-width="2.1999999999999997" stroke-linecap="butt"/>
<line x1="252.90" y1="1628.60" x2="252.90" y2="1665.00" stroke="#1e4aa1" stroke-width="1.9" stroke-linecap="butt"/>
<line x1="246.80" y1="1628.60" x2="259.00" y2="1628.60" stroke="#1e4aa1" stroke-width="2.1999999999999997" stroke-linecap="butt"/>
<line x1="246.80" y1="1665.00" x2="259.00" y2="1665.00" stroke="#1e4aa1" stroke-width="2.1999999999999997" stroke-linecap="butt"/>
<line x1="291.00" y1="1589.00" x2="291.00" y2="1641.90" stroke="#1e4aa1" stroke-width="1.9" stroke-linecap="butt"/>
<line x1="284.90" y1="1589.00" x2="297.10" y2="1589.00" stroke="#1e4aa1" stroke-width="2.1999999999999997" stroke-linecap="butt"/>
<line x1="284.90" y1="1641.90" x2="297.10" y2="1641.90" stroke="#1e4aa1" stroke-width="2.1999999999999997" stroke-linecap="butt"/>
<line x1="328.80" y1="1560.20" x2="328.80" y2="1622.60" stroke="#1e4aa1" stroke-width="1.9" stroke-linecap="butt"/>
<line x1="322.70" y1="1560.20" x2="334.90" y2="1560.20" stroke="#1e4aa1" stroke-width="2.1999999999999997" stroke-linecap="butt"/>
<line x1="322.70" y1="1622.60" x2="334.90" y2="1622.60" stroke="#1e4aa1" stroke-width="2.1999999999999997" stroke-linecap="butt"/>
<line x1="367.50" y1="1552.20" x2="367.50" y2="1616.00" stroke="#1e4aa1" stroke-width="1.9" stroke-linecap="butt"/>
<line x1="361.40" y1="1552.20" x2="373.60" y2="1552.20" stroke="#1e4aa1" stroke-width="2.1999999999999997" stroke-linecap="butt"/>
<line x1="361.40" y1="1616.00" x2="373.60" y2="1616.00" stroke="#1e4aa1" stroke-width="2.1999999999999997" stroke-linecap="butt"/>
<line x1="405.80" y1="1546.10" x2="405.80" y2="1612.40" stroke="#1e4aa1" stroke-width="1.9" stroke-linecap="butt"/>
<line x1="399.70" y1="1546.10" x2="411.90" y2="1546.10" stroke="#1e4aa1" stroke-width="2.1999999999999997" stroke-linecap="butt"/>
<line x1="399.70" y1="1612.40" x2="411.90" y2="1612.40" stroke="#1e4aa1" stroke-width="2.1999999999999997" stroke-linecap="butt"/>
<line x1="444.00" y1="1542.20" x2="444.00" y2="1609.60" stroke="#1e4aa1" stroke-width="1.9" stroke-linecap="butt"/>
<line x1="437.90" y1="1542.20" x2="450.10" y2="1542.20" stroke="#1e4aa1" stroke-width="2.1999999999999997" stroke-linecap="butt"/>
<line x1="437.90" y1="1609.60" x2="450.10" y2="1609.60" stroke="#1e4aa1" stroke-width="2.1999999999999997" stroke-linecap="butt"/>
<line x1="482.70" y1="1672.70" x2="482.70" y2="1689.70" stroke="#1e4aa1" stroke-width="1.9" stroke-linecap="butt"/>
<line x1="476.60" y1="1672.70" x2="488.80" y2="1672.70" stroke="#1e4aa1" stroke-width="2.1999999999999997" stroke-linecap="butt"/>
<line x1="476.60" y1="1689.70" x2="488.80" y2="1689.70" stroke="#1e4aa1" stroke-width="2.1999999999999997" stroke-linecap="butt"/>
<line x1="521.00" y1="1680.30" x2="521.00" y2="1693.90" stroke="#1e4aa1" stroke-width="1.9" stroke-linecap="butt"/>
<line x1="514.90" y1="1680.30" x2="527.10" y2="1680.30" stroke="#1e4aa1" stroke-width="2.1999999999999997" stroke-linecap="butt"/>
<line x1="514.90" y1="1693.90" x2="527.10" y2="1693.90" stroke="#1e4aa1" stroke-width="2.1999999999999997" stroke-linecap="butt"/>
<line x1="559.00" y1="1680.50" x2="559.00" y2="1693.10" stroke="#1e4aa1" stroke-width="1.9" stroke-linecap="butt"/>
<line x1="552.90" y1="1680.50" x2="565.10" y2="1680.50" stroke="#1e4aa1" stroke-width="2.1999999999999997" stroke-linecap="butt"/>
<line x1="552.90" y1="1693.10" x2="565.10" y2="1693.10" stroke="#1e4aa1" stroke-width="2.1999999999999997" stroke-linecap="butt"/>
<circle cx="138.70" cy="1694.40" r="6.2" fill="#1e4aa1"/>
<circle cx="176.70" cy="1696.70" r="6.2" fill="#1e4aa1"/>
<circle cx="214.60" cy="1696.70" r="6.2" fill="#1e4aa1"/>
<circle cx="252.90" cy="1647.00" r="6.2" fill="#1e4aa1"/>
<circle cx="291.00" cy="1615.40" r="6.2" fill="#1e4aa1"/>
<circle cx="328.80" cy="1591.40" r="6.2" fill="#1e4aa1"/>
<circle cx="367.50" cy="1583.90" r="6.2" fill="#1e4aa1"/>
<circle cx="405.80" cy="1579.10" r="6.2" fill="#1e4aa1"/>
<circle cx="444.00" cy="1576.10" r="6.2" fill="#1e4aa1"/>
<circle cx="482.70" cy="1681.20" r="6.2" fill="#1e4aa1"/>
<circle cx="521.00" cy="1687.10" r="6.2" fill="#1e4aa1"/>
<circle cx="559.00" cy="1686.80" r="6.2" fill="#1e4aa1"/>
<line x1="655.00" y1="895.30" x2="687.20" y2="895.30" stroke="#1e4aa1" stroke-width="2.7" stroke-linecap="butt"/>
<circle cx="671.1" cy="895.3" r="6.3" fill="#1e4aa1"/>
<line x1="655.00" y1="936.60" x2="687.20" y2="936.60" stroke="#e5131d" stroke-width="2.7" stroke-linecap="butt"/>
<rect x="664.90" y="930.40" width="12.40" height="12.40" fill="#e5131d"/>
<line x1="661.30" y1="1427.70" x2="694.00" y2="1427.70" stroke="#1e4aa1" stroke-width="1.9" stroke-linecap="butt"/>
<circle cx="677.7" cy="1427.7" r="6.2" fill="#1e4aa1"/>
<line x1="661.30" y1="1468.80" x2="694.00" y2="1468.80" stroke="#e5131d" stroke-width="1.9" stroke-linecap="butt"/>
<rect x="671.40" y="1462.60" width="12.50" height="12.50" fill="#e5131d"/>
<rect x="804.5" y="1479" width="4" height="4" fill="#111"/>
<g font-family="'Liberation Sans', Arial, Helvetica, sans-serif" fill="#000">
<text x="0.14" y="45.01" font-size="59.45" font-weight="bold" textLength="30.75" lengthAdjust="spacingAndGlyphs">a</text>
<text x="738.55" y="45.60" font-size="59.32" font-weight="bold" textLength="38.00" lengthAdjust="spacingAndGlyphs">b</text>
<text x="1346.36" y="45.01" font-size="59.45" font-weight="bold" textLength="33.94" lengthAdjust="spacingAndGlyphs">c</text>
<text x="7.39" y="797.10" font-size="60.41" font-weight="bold" textLength="38.37" lengthAdjust="spacingAndGlyphs">d</text>
<text x="7.41" y="1314.00" font-size="59.64" font-weight="bold" textLength="34.65" lengthAdjust="spacingAndGlyphs">e</text>
<text x="279.52" y="71.23" font-size="37.46" >293T</text>
<text x="31.85" y="136.31" font-size="38.92" >kDa</text>
<text x="136.87" y="136.22" font-size="37.84"  textLength="55.11" lengthAdjust="spacingAndGlyphs">sh1</text>
<text x="247.87" y="136.22" font-size="37.84" >sh2</text>
<text x="359.68" y="136.22" font-size="37.84"  textLength="60.10" lengthAdjust="spacingAndGlyphs">sh3</text>
<text x="468.89" y="136.22" font-size="37.89" >NTC</text>
<text x="60.08" y="190.31" font-size="39.30"  textLength="45.76" lengthAdjust="spacingAndGlyphs">40</text>
<text x="62.00" y="267.81" font-size="39.15" >37</text>
<text x="59.72" y="331.90" font-size="40.00"  textLength="41.85" lengthAdjust="spacingAndGlyphs">21</text>
<text x="60.70" y="402.60" font-size="40.28" >13</text>
<text x="82.86" y="456.31" font-size="39.30"  textLength="22.84" lengthAdjust="spacingAndGlyphs">8</text>
<text x="59.53" y="521.00" font-size="40.28"  textLength="46.02" lengthAdjust="spacingAndGlyphs">28</text>
<text x="61.75" y="581.31" font-size="39.30" >38</text>
<text x="61.15" y="655.10" font-size="39.86" >55</text>
<text x="570.40" y="190.63" font-size="37.00"  textLength="164.71" lengthAdjust="spacingAndGlyphs">METTL15</text>
<text x="570.50" y="263.44" font-size="36.06" >MT-CO1</text>
<text x="570.41" y="333.53" font-size="37.18" >MT-CO2</text>
<text x="570.39" y="401.04" font-size="36.34"  textLength="139.89" lengthAdjust="spacingAndGlyphs">MT-ND3</text>
<text x="570.39" y="463.14" font-size="36.48"  textLength="156.03" lengthAdjust="spacingAndGlyphs">MT-ATP8</text>
<text x="570.48" y="523.44" font-size="36.48" >MT-CYB</text>
<text x="572.84" y="589.00" font-size="38.12"  textLength="96.73" lengthAdjust="spacingAndGlyphs">RBFA</text>
<text x="570.78" y="651.10" font-size="36.03"  textLength="155.30" lengthAdjust="spacingAndGlyphs">β-Tubulin</text>
<text x="839.08" y="86.60" font-size="39.04"  textLength="356.38" lengthAdjust="spacingAndGlyphs">membrane potential</text>
<text x="816.10" y="169.54" font-size="26.34" font-weight="bold" textLength="89.06" lengthAdjust="spacingAndGlyphs">200000</text>
<text x="818.07" y="257.19" font-size="26.06" font-weight="bold">150000</text>
<text x="818.07" y="345.09" font-size="26.06" font-weight="bold">100000</text>
<text x="832.41" y="432.19" font-size="26.06" font-weight="bold">50000</text>
<text x="890.51" y="520.59" font-size="26.06" font-weight="bold">0</text>
<text transform="translate(798.90 373.82) rotate(-90)" font-size="32.17"  textLength="92.30" lengthAdjust="spacingAndGlyphs">MFIPE</text>
<text x="1009.19" y="187.28" font-size="35.65" font-weight="bold" font-family="DejaVu Sans, sans-serif" textLength="59.89" lengthAdjust="spacing" stroke="#000" stroke-width="0.3">***</text>
<text x="942.30" y="557.60" font-size="29.59" >shNTC</text>
<text x="1072.29" y="559.99" font-size="30.95"  textLength="48.69" lengthAdjust="spacingAndGlyphs">sh2</text>
<text x="987.80" y="622.90" font-size="41.74"  textLength="113.12" lengthAdjust="spacingAndGlyphs">TMRE</text>
<text x="1296.44" y="192.71" font-size="28.51" >shNTC</text>
<text x="1296.42" y="239.72" font-size="27.97"  textLength="47.32" lengthAdjust="spacingAndGlyphs">sh2</text>
<text x="1495.89" y="86.41" font-size="39.32"  textLength="337.01" lengthAdjust="spacingAndGlyphs">mitochondrial ROS</text>
<text x="1407.09" y="183.53" font-size="26.76" font-weight="bold" textLength="75.32" lengthAdjust="spacingAndGlyphs">20000</text>
<text x="1407.98" y="273.23" font-size="26.76" font-weight="bold">15000</text>
<text x="1407.98" y="362.73" font-size="26.76" font-weight="bold">10000</text>
<text x="1422.96" y="452.23" font-size="26.76" font-weight="bold">5000</text>
<text x="1467.65" y="542.23" font-size="26.76" font-weight="bold">0</text>
<text transform="translate(1389.90 385.46) rotate(-90)" font-size="32.17"  textLength="94.07" lengthAdjust="spacingAndGlyphs">MFIPE</text>
<text x="1599.46" y="149.51" font-size="37.17" font-weight="bold" font-family="DejaVu Sans, sans-serif" textLength="40.01" lengthAdjust="spacing" stroke="#000" stroke-width="0.3">**</text>
<text x="1533.50" y="576.00" font-size="30.27" >shNTC</text>
<text x="1663.80" y="577.60" font-size="29.59"  textLength="48.48" lengthAdjust="spacingAndGlyphs">sh2</text>
<text x="1543.17" y="635.19" font-size="40.54" >mitoSOX</text>
<text x="1882.42" y="206.71" font-size="29.32" >shNTC</text>
<text x="1882.39" y="255.20" font-size="29.73"  textLength="48.69" lengthAdjust="spacingAndGlyphs">sh2</text>
<text x="258.11" y="833.68" font-size="41.83"  textLength="183.89" lengthAdjust="spacingAndGlyphs">OCR Data</text>
<text x="72.71" y="883.18" font-size="22.11" font-weight="bold" textLength="38.79" lengthAdjust="spacingAndGlyphs">150</text>
<text x="73.96" y="985.08" font-size="22.11" font-weight="bold">100</text>
<text x="86.34" y="1087.18" font-size="22.11" font-weight="bold">50</text>
<text x="98.72" y="1189.38" font-size="22.11" font-weight="bold">0</text>
<text x="118.57" y="1215.98" font-size="21.55" font-weight="bold">0</text>
<text x="227.65" y="1215.98" font-size="21.55" font-weight="bold">20</text>
<text x="342.76" y="1215.98" font-size="21.55" font-weight="bold">40</text>
<text x="457.54" y="1215.98" font-size="21.55" font-weight="bold">60</text>
<text x="572.65" y="1215.98" font-size="21.55" font-weight="bold">80</text>
<text x="264.35" y="1251.10" font-size="24.52" font-weight="bold" textLength="180.62" lengthAdjust="spacingAndGlyphs">Time (minutes)</text>
<text transform="translate(57.80 1121.71) rotate(-90)" font-size="26.16" font-weight="bold" textLength="192.39" lengthAdjust="spacingAndGlyphs">OCR (pmol/min)</text>
<text x="705.45" y="902.95" font-size="24.59"  textLength="77.48" lengthAdjust="spacingAndGlyphs">shNTC</text>
<text x="705.42" y="944.35" font-size="25.00"  textLength="41.73" lengthAdjust="spacingAndGlyphs">sh2</text>
<text x="866.75" y="874.26" font-size="23.52" font-weight="bold" textLength="27.70" lengthAdjust="spacingAndGlyphs">80</text>
<text x="868.23" y="956.16" font-size="23.52" font-weight="bold">60</text>
<text x="868.23" y="1038.46" font-size="23.52" font-weight="bold">40</text>
<text x="868.23" y="1120.26" font-size="23.52" font-weight="bold">20</text>
<text x="881.40" y="1202.46" font-size="23.52" font-weight="bold">0</text>
<text x="1011.85" y="853.07" font-size="32.39" font-weight="bold" font-family="DejaVu Sans, sans-serif" textLength="17.29" lengthAdjust="spacing" stroke="#000" stroke-width="0.3">*</text>
<text transform="translate(845.00 1166.73) rotate(-90)" font-size="29.86"  fill="#221310" textLength="275.32" lengthAdjust="spacingAndGlyphs">Maximal Respiration</text>
<text x="943.91" y="1239.41" font-size="29.32"  textLength="47.95" lengthAdjust="spacingAndGlyphs">sh2</text>
<text x="1020.50" y="1239.40" font-size="30.00" >shNTC</text>
<text x="1260.18" y="895.94" font-size="26.08"  textLength="44.16" lengthAdjust="spacingAndGlyphs">sh2</text>
<text x="1260.20" y="939.83" font-size="26.62" >shNTC</text>
<text x="1450.18" y="869.76" font-size="24.08" font-weight="bold" textLength="28.40" lengthAdjust="spacingAndGlyphs">60</text>
<text x="1451.83" y="979.96" font-size="23.80" font-weight="bold">40</text>
<text x="1451.83" y="1090.96" font-size="23.80" font-weight="bold">20</text>
<text x="1465.16" y="1201.96" font-size="23.80" font-weight="bold">0</text>
<text x="1595.93" y="854.17" font-size="33.48" font-weight="bold" font-family="DejaVu Sans, sans-serif" textLength="16.84" lengthAdjust="spacing" stroke="#000" stroke-width="0.3">*</text>
<text transform="translate(1430.60 1137.40) rotate(-90)" font-size="29.59"  fill="#221310" textLength="210.67" lengthAdjust="spacingAndGlyphs">ATP Production</text>
<text x="1529.70" y="1238.91" font-size="29.32"  textLength="48.16" lengthAdjust="spacingAndGlyphs">sh2</text>
<text x="1606.51" y="1238.90" font-size="30.00" >shNTC</text>
<text x="1848.86" y="891.24" font-size="26.49"  textLength="44.89" lengthAdjust="spacingAndGlyphs">sh2</text>
<text x="1848.89" y="935.54" font-size="26.35"  textLength="84.13" lengthAdjust="spacingAndGlyphs">shNTC</text>
<text x="258.22" y="1392.49" font-size="40.70"  textLength="205.73" lengthAdjust="spacingAndGlyphs">ECAR Data</text>
<text x="80.32" y="1414.97" font-size="22.54" font-weight="bold" textLength="38.26" lengthAdjust="spacingAndGlyphs">150</text>
<text x="81.00" y="1516.88" font-size="22.39" font-weight="bold">100</text>
<text x="93.54" y="1618.98" font-size="22.39" font-weight="bold">50</text>
<text x="106.08" y="1721.08" font-size="22.39" font-weight="bold">0</text>
<text x="124.86" y="1748.38" font-size="21.97" font-weight="bold">0</text>
<text x="234.02" y="1748.38" font-size="21.97" font-weight="bold">20</text>
<text x="349.33" y="1748.38" font-size="21.97" font-weight="bold">40</text>
<text x="464.31" y="1748.38" font-size="21.97" font-weight="bold">60</text>
<text x="579.62" y="1748.38" font-size="21.97" font-weight="bold">80</text>
<text x="271.15" y="1783.30" font-size="24.25" font-weight="bold" textLength="180.62" lengthAdjust="spacingAndGlyphs">Time (minutes)</text>
<text transform="translate(57.90 1660.87) rotate(-90)" font-size="25.48" font-weight="bold">ECAR (mpH/min)</text>
<text x="712.25" y="1435.35" font-size="25.00" >shNTC</text>
<text x="712.23" y="1476.85" font-size="25.27"  textLength="41.42" lengthAdjust="spacingAndGlyphs">sh2</text>
<text x="848.34" y="1376.75" font-size="24.93" font-weight="bold" textLength="43.36" lengthAdjust="spacingAndGlyphs">100</text>
<text x="863.93" y="1445.75" font-size="24.93" font-weight="bold">80</text>
<text x="863.93" y="1514.95" font-size="24.93" font-weight="bold">60</text>
<text x="863.93" y="1583.45" font-size="24.93" font-weight="bold">40</text>
<text x="863.93" y="1652.45" font-size="24.93" font-weight="bold">20</text>
<text x="877.89" y="1722.05" font-size="24.93" font-weight="bold">0</text>
<text transform="translate(830.20 1618.88) rotate(-90)" font-size="35.21"  textLength="160.23" lengthAdjust="spacingAndGlyphs">Glycolysis</text>
<text x="952.84" y="1755.14" font-size="25.95" font-weight="bold" textLength="45.71" lengthAdjust="spacingAndGlyphs">sh2</text>
<text x="1031.35" y="1755.14" font-size="26.49" font-weight="bold">shNTC</text>
<text x="1276.83" y="1399.62" font-size="28.11"  textLength="46.68" lengthAdjust="spacingAndGlyphs">sh2</text>
<text x="1276.86" y="1445.62" font-size="27.97" >shNTC</text>
<text x="1434.05" y="1376.75" font-size="24.93" font-weight="bold" textLength="43.04" lengthAdjust="spacingAndGlyphs">100</text>
<text x="1449.33" y="1445.75" font-size="24.93" font-weight="bold">80</text>
<text x="1449.33" y="1514.95" font-size="24.93" font-weight="bold">60</text>
<text x="1449.33" y="1583.45" font-size="24.93" font-weight="bold">40</text>
<text x="1449.33" y="1652.45" font-size="24.93" font-weight="bold">20</text>
<text x="1463.29" y="1722.05" font-size="24.93" font-weight="bold">0</text>
<text transform="translate(1428.50 1680.10) rotate(-90)" font-size="31.51"  fill="#2a1612" textLength="253.71" lengthAdjust="spacingAndGlyphs">Glycolytic Capacity</text>
<text x="1533.70" y="1758.49" font-size="30.54"  textLength="48.58" lengthAdjust="spacingAndGlyphs">sh2</text>
<text x="1610.60" y="1758.49" font-size="30.81"  textLength="93.04" lengthAdjust="spacingAndGlyphs">shNTC</text>
<text x="1862.03" y="1399.62" font-size="28.11"  textLength="46.58" lengthAdjust="spacingAndGlyphs">sh2</text>
<text x="1862.06" y="1445.62" font-size="27.97" >shNTC</text>
</g>
</svg>
</body></html>
